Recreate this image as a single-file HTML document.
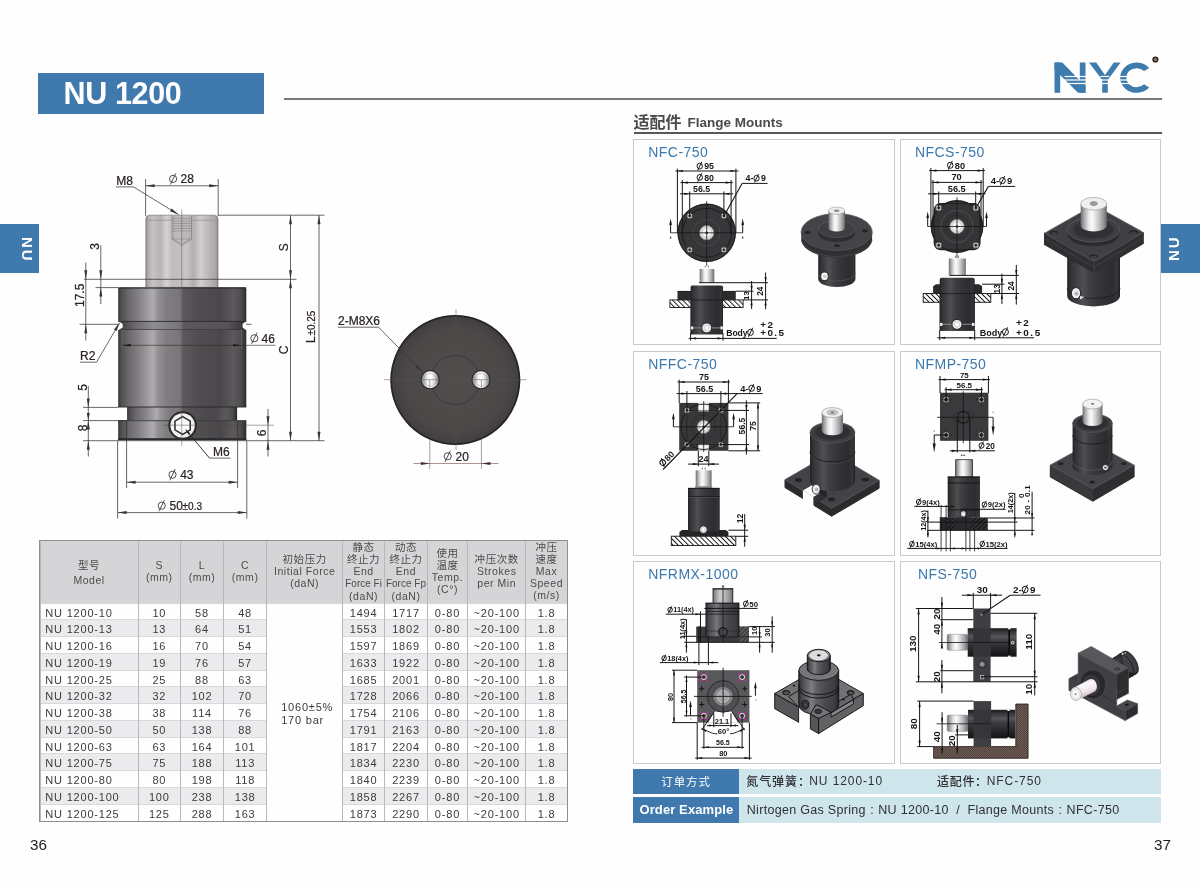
<!DOCTYPE html>
<html lang="zh"><head><meta charset="utf-8"><title>NU 1200</title><style>
*{box-sizing:border-box}
html,body{margin:0;padding:0}
body{will-change:transform;width:1200px;height:884px;position:relative;overflow:hidden;background:#fefefe;font-family:"Liberation Sans","Noto Sans CJK SC",sans-serif;color:#333}
svg{position:absolute;left:0;top:0;overflow:visible}
svg text{font-family:"Liberation Sans","Noto Sans CJK SC",sans-serif}
.abs{position:absolute}
.title{left:37.5px;top:72.5px;width:226.5px;height:41.5px;background:#3f79ad;color:#fff;font-weight:bold;font-size:30.5px;line-height:41.5px;padding-left:26px;letter-spacing:-0.35px;white-space:nowrap}
.hline{left:284px;top:98.2px;width:878px;height:2px;background:#777879}
.tabL{left:0;top:224px;width:39px;height:49px;background:#3f79ad}
.tabR{left:1161px;top:224px;width:39px;height:49px;background:#3f79ad}
.tabtxt{position:absolute;color:#fff;font-weight:bold;font-size:15px;letter-spacing:2px;line-height:1;white-space:nowrap;transform-origin:0 0}
.h2{left:687.5px;top:114.6px;font-weight:bold;font-size:13.5px;color:#4a4a4c;white-space:nowrap;line-height:15px}
.h2line{left:633.5px;top:132.3px;width:528.5px;height:1.6px;background:#58585a}
.box{border:1px solid #c9c9cb;background:#fefefe}
.boxt{position:absolute;left:14px;top:4.2px;font-size:14px;color:#3a78ad;letter-spacing:0.45px;white-space:nowrap;line-height:16px}
.pn{font-size:15.2px;color:#1c1c1c;line-height:16px}
.ob{background:#3f79ad;color:#fff;left:633.3px;width:105.5px}
.ol{background:#cfe5ec;left:738.8px;width:422.7px}
.otxt{font-size:12px;letter-spacing:0.9px;color:#2f2f31;white-space:nowrap;line-height:14px}
table.t{position:absolute;left:39.5px;top:540px;width:528px;border-collapse:collapse;table-layout:fixed;font-size:11px;color:#3b3b3d;letter-spacing:0.8px}
table.t td{padding:3px 0 0 0;height:16.77px;line-height:12.77px;text-align:center;border-left:1px solid #b9b9bb;border-right:1px solid #b9b9bb;border-top:1px solid #d9d9db;white-space:nowrap;overflow:hidden}
table.t tr.h td{padding:0;overflow:visible;height:63px;background:#d5d5d7;border-top:none;font-size:10.5px;line-height:12px;color:#4c4c4e;letter-spacing:0.55px;vertical-align:middle}
table.t tr.g td{background:#ebebed}
table.t tr.w td{background:#fefefe}
table.t td.m{text-align:left;padding-left:4.8px}
table.t td.big{background:#fefefe !important;text-align:left;padding:0 0 0 14px;line-height:13px;vertical-align:middle}
.tframe{left:39px;top:539.5px;width:529px;height:282.5px;border:1.6px solid #8e8e90;pointer-events:none}
.cj{font-family:"Liberation Sans","Noto Sans CJK SC",sans-serif;font-size:10.5px;letter-spacing:0.55px;color:#4c4c4e}
</style></head><body>
<div class="abs title">NU 1200</div>
<div class="abs hline"></div>
<div class="abs tabL"><span class="tabtxt" style="left:35px;top:237px;transform:translate(0,-224px) rotate(90deg)">NU</span></div>
<div class="abs tabR"><span class="tabtxt" style="left:4.6px;top:36.6px;transform:rotate(-90deg)">NU</span></div>
<svg width="1200" height="884" aria-label="NYC logo"><rect x="1054.5" y="62.5" width="5.7" height="30.3" fill="#3f7cae" /><rect x="1079.8" y="62.5" width="5.7" height="30.3" fill="#3f7cae" /><polygon points="1054.5,62.5 1062.3,62.5 1085.5,86.3 1085.5,92.8 1078,92.8 1054.5,69.5" fill="#3f7cae" /><polygon points="1089,62.5 1096.2,62.5 1105,75.1 1113.8,62.5 1120.6,62.5 1107.8,80.1 1107.8,92.8 1102.2,92.8 1102.2,80.1" fill="#3f7cae" /><path fill="#3f7cae" d="M1149.19 67.91 A16.44 15.15 0 1 0 1149.19 87.39 L1144.08 84.18 A10.31 9.5 0 1 1 1144.08 71.12Z"/><rect x="1064.5" y="75.9" width="21.5" height="1.2" fill="#fefefe" /><rect x="1100.3" y="75.9" width="9" height="1.2" fill="#fefefe" /><rect x="1119.5" y="75.9" width="9.6" height="1.2" fill="#fefefe" /><rect x="1064.5" y="79.4" width="21.5" height="1.2" fill="#fefefe" /><rect x="1100.3" y="79.4" width="9" height="1.2" fill="#fefefe" /><rect x="1119.5" y="79.4" width="9.6" height="1.2" fill="#fefefe" /><rect x="1064.5" y="82.9" width="21.5" height="1.2" fill="#fefefe" /><rect x="1100.3" y="82.9" width="9" height="1.2" fill="#fefefe" /><rect x="1119.5" y="82.9" width="9.6" height="1.2" fill="#fefefe" /><circle cx="1155.4" cy="59.5" r="3.1" fill="#33231f" /><circle cx="1155.4" cy="59.5" r="1.5" fill="#a89a95" /><circle cx="1155.2" cy="59.3" r="0.6" fill="#33231f" /></svg>
<svg width="1200" height="884" style="pointer-events:none"><text x="633.5" y="127.9" font-size="16" font-weight="bold" fill="#4a4a4c">适配件</text></svg>
<div class="abs h2">Flange Mounts</div>
<div class="abs h2line"></div>
<div class="abs pn" style="left:30px;top:836.6px">36</div>
<div class="abs pn" style="left:1154px;top:836.6px">37</div>
<table class="t"><colgroup>
<col style="width:98.2px">
<col style="width:42.3px">
<col style="width:43.1px">
<col style="width:43.1px">
<col style="width:76px">
<col style="width:41.8px">
<col style="width:43px">
<col style="width:40px">
<col style="width:58.5px">
<col style="width:41px">
</colgroup>
<tr class="h"><td><div style="line-height:14.5px;position:relative;top:1.5px"><span class="cj">型号</span><br>Model</div></td><td>S<br>(mm)</td><td>L<br>(mm)</td><td>C<br>(mm)</td><td><span class="cj">初始压力</span><br>Initial Force<br>(daN)</td><td><span class="cj">静态</span><br><span class="cj">终止力</span><br>End<br><span style="letter-spacing:0;font-size:10px">Force Fi</span><br>(daN)</td><td><span class="cj">动态</span><br><span class="cj">终止力</span><br>End<br><span style="letter-spacing:0;font-size:10px">Force Fp</span><br>(daN)</td><td><span class="cj">使用</span><br><span class="cj">温度</span><br>Temp.<br>(C°)</td><td><span class="cj">冲压次数</span><br>Strokes<br>per Min</td><td><span class="cj">冲压</span><br><span class="cj">速度</span><br>Max<br>Speed<br>(m/s)</td></tr>
<tr class="w"><td class="m">NU 1200-10</td><td>10</td><td>58</td><td>48</td><td class="big" rowspan="13"><div style="position:relative;top:1.5px">1060±5%<br>170 bar</div></td><td>1494</td><td>1717</td><td>0-80</td><td>~20-100</td><td>1.8</td></tr>
<tr class="g"><td class="m">NU 1200-13</td><td>13</td><td>64</td><td>51</td><td>1553</td><td>1802</td><td>0-80</td><td>~20-100</td><td>1.8</td></tr>
<tr class="w"><td class="m">NU 1200-16</td><td>16</td><td>70</td><td>54</td><td>1597</td><td>1869</td><td>0-80</td><td>~20-100</td><td>1.8</td></tr>
<tr class="g"><td class="m">NU 1200-19</td><td>19</td><td>76</td><td>57</td><td>1633</td><td>1922</td><td>0-80</td><td>~20-100</td><td>1.8</td></tr>
<tr class="w"><td class="m">NU 1200-25</td><td>25</td><td>88</td><td>63</td><td>1685</td><td>2001</td><td>0-80</td><td>~20-100</td><td>1.8</td></tr>
<tr class="g"><td class="m">NU 1200-32</td><td>32</td><td>102</td><td>70</td><td>1728</td><td>2066</td><td>0-80</td><td>~20-100</td><td>1.8</td></tr>
<tr class="w"><td class="m">NU 1200-38</td><td>38</td><td>114</td><td>76</td><td>1754</td><td>2106</td><td>0-80</td><td>~20-100</td><td>1.8</td></tr>
<tr class="g"><td class="m">NU 1200-50</td><td>50</td><td>138</td><td>88</td><td>1791</td><td>2163</td><td>0-80</td><td>~20-100</td><td>1.8</td></tr>
<tr class="w"><td class="m">NU 1200-63</td><td>63</td><td>164</td><td>101</td><td>1817</td><td>2204</td><td>0-80</td><td>~20-100</td><td>1.8</td></tr>
<tr class="g"><td class="m">NU 1200-75</td><td>75</td><td>188</td><td>113</td><td>1834</td><td>2230</td><td>0-80</td><td>~20-100</td><td>1.8</td></tr>
<tr class="w"><td class="m">NU 1200-80</td><td>80</td><td>198</td><td>118</td><td>1840</td><td>2239</td><td>0-80</td><td>~20-100</td><td>1.8</td></tr>
<tr class="g"><td class="m">NU 1200-100</td><td>100</td><td>238</td><td>138</td><td>1858</td><td>2267</td><td>0-80</td><td>~20-100</td><td>1.8</td></tr>
<tr class="w"><td class="m">NU 1200-125</td><td>125</td><td>288</td><td>163</td><td>1873</td><td>2290</td><td>0-80</td><td>~20-100</td><td>1.8</td></tr>
</table>
<div class="abs tframe"></div>
<div class="abs box" style="left:633.3px;top:139.2px;width:261.5px;height:206px"><span class="boxt" style="left:14px">NFC-750</span></div>
<div class="abs box" style="left:900px;top:139.2px;width:261px;height:206px"><span class="boxt" style="left:14px">NFCS-750</span></div>
<div class="abs box" style="left:633.3px;top:351px;width:261.5px;height:204.5px"><span class="boxt" style="left:14px">NFFC-750</span></div>
<div class="abs box" style="left:900px;top:351px;width:261px;height:204.5px"><span class="boxt" style="left:14px">NFMP-750</span></div>
<div class="abs box" style="left:633.3px;top:561.3px;width:261.5px;height:203px"><span class="boxt" style="left:14px">NFRMX-1000</span></div>
<div class="abs box" style="left:900px;top:561.3px;width:261px;height:203px"><span class="boxt" style="left:17px">NFS-750</span></div>
<div class="abs ob" style="top:768.7px;height:25px"></div>
<div class="abs ol" style="top:768.7px;height:25px"></div>
<div class="abs ob" style="top:797px;height:25.5px"></div>
<div class="abs ol" style="top:797px;height:25.5px"></div>
<svg width="1200" height="884" style="pointer-events:none"><text x="661.3" y="786.3" font-size="11.5" letter-spacing="0.9" fill="#fff">订单方式</text><text x="746.3" y="786.2" font-size="12" font-weight="500" letter-spacing="0.9" fill="#2f2f31">氮气弹簧：</text><text x="937" y="786.2" font-size="12" font-weight="500" letter-spacing="0.7" fill="#2f2f31">适配件：</text></svg>
<div class="abs otxt" style="left:809.3px;top:774.3px">NU 1200-10</div>
<div class="abs otxt" style="left:986.8px;top:774.3px">NFC-750</div>
<div class="abs" style="left:639.5px;top:802.2px;font-weight:bold;font-size:13px;color:#fff;white-space:nowrap;line-height:15px;letter-spacing:0.1px">Order Example</div>
<div class="abs otxt" style="left:746.8px;top:802.6px;font-size:12.5px;letter-spacing:0.3px;line-height:15px">Nirtogen Gas Spring<span style="letter-spacing:0;display:inline-block;width:12.5px;text-align:center">:</span>NU 1200-10&nbsp; /&nbsp; Flange Mounts<span style="letter-spacing:0;display:inline-block;width:12.5px;text-align:center">:</span>NFC-750</div>
<svg width="1200" height="884" aria-label="NU 1200 dimension drawing" style="stroke-linecap:butt"><style>.lt text{stroke:#2a2224;stroke-width:0.22px}</style><g class="lt"><defs><linearGradient id="rodG" x1="0" y1="0" x2="1" y2="0"><stop offset="0" stop-color="#938f92"/><stop offset="0.04" stop-color="#b3afb2"/><stop offset="0.1" stop-color="#c6c2c5"/><stop offset="0.2" stop-color="#b6b2b5"/><stop offset="0.29" stop-color="#d6d2d4"/><stop offset="0.36" stop-color="#c0bcbe"/><stop offset="0.5" stop-color="#c4c0c2"/><stop offset="0.56" stop-color="#c9c5c7"/><stop offset="0.66" stop-color="#b2aeb0"/><stop offset="0.76" stop-color="#d2cecf"/><stop offset="0.86" stop-color="#bdb9bb"/><stop offset="0.96" stop-color="#aca8aa"/><stop offset="1" stop-color="#908c8e"/></linearGradient><linearGradient id="bodyG" x1="0" y1="0" x2="1" y2="0"><stop offset="0" stop-color="#323033"/><stop offset="0.02" stop-color="#4d4b4e"/><stop offset="0.08" stop-color="#6a686b"/><stop offset="0.16" stop-color="#838184"/><stop offset="0.22" stop-color="#9a989b"/><stop offset="0.27" stop-color="#aeacaf"/><stop offset="0.31" stop-color="#939194"/><stop offset="0.38" stop-color="#7f7d80"/><stop offset="0.46" stop-color="#7a787b"/><stop offset="0.497" stop-color="#757376"/><stop offset="0.503" stop-color="#5d5a5d"/><stop offset="0.6" stop-color="#524f52"/><stop offset="0.8" stop-color="#4a474a"/><stop offset="0.9" stop-color="#5c595c"/><stop offset="0.96" stop-color="#4e4b4e"/><stop offset="1" stop-color="#2b292c"/></linearGradient><linearGradient id="grvG" x1="0" y1="0" x2="1" y2="0"><stop offset="0" stop-color="#363437"/><stop offset="0.1" stop-color="#605e62"/><stop offset="0.27" stop-color="#8f8d90"/><stop offset="0.5" stop-color="#757376"/><stop offset="0.51" stop-color="#5a585b"/><stop offset="0.85" stop-color="#56545a"/><stop offset="1" stop-color="#343235"/></linearGradient><radialGradient id="discG" cx="0.5" cy="0.5" r="0.5"><stop offset="0" stop-color="#524e4e"/><stop offset="0.8" stop-color="#4b4747"/><stop offset="0.94" stop-color="#454142"/><stop offset="0.975" stop-color="#2d2a2b"/><stop offset="1" stop-color="#1d1b1c"/></radialGradient><linearGradient id="holeG" x1="0" y1="0" x2="1" y2="0"><stop offset="0" stop-color="#8a8a8c"/><stop offset="0.35" stop-color="#f4f4f4"/><stop offset="0.55" stop-color="#ffffff"/><stop offset="0.8" stop-color="#c9c9cb"/><stop offset="1" stop-color="#77777a"/></linearGradient></defs><path d="M145.8 287.4V219.2Q145.8 215.2 149.8 215.2H214Q218 215.2 218 219.2V287.4Z" fill="url(#rodG)" stroke="#6d696c" stroke-width="0.6" /><line x1="146" y1="220.2" x2="218" y2="220.2" stroke="#8d898c" stroke-width="0.6" /><path d="M172.1 215.4V239L181.75 245.4L191.4 239V215.4" fill="#c9c5c7" stroke="#6a6669" stroke-width="0.6" /><path d="M173.6 215.4V239.5L181.75 244L189.9 239.5V215.4Z" fill="#bdb9bb" stroke="#8a8689" stroke-width="0.4" /><line x1="172.1" y1="218.5" x2="191.4" y2="218.5" stroke="#7d797c" stroke-width="0.5" /><line x1="172.1" y1="221" x2="191.4" y2="221" stroke="#7d797c" stroke-width="0.5" /><line x1="172.1" y1="223.5" x2="191.4" y2="223.5" stroke="#7d797c" stroke-width="0.5" /><line x1="172.1" y1="226" x2="191.4" y2="226" stroke="#7d797c" stroke-width="0.5" /><line x1="172.1" y1="228.5" x2="191.4" y2="228.5" stroke="#7d797c" stroke-width="0.5" /><line x1="172.1" y1="231" x2="191.4" y2="231" stroke="#7d797c" stroke-width="0.5" /><line x1="172.1" y1="239" x2="191.4" y2="239" stroke="#7d797c" stroke-width="0.5" /><path d="M118.2 322V289.2Q118.2 287.2 120.2 287.2H244.3Q246.3 287.2 246.3 289.2V322Z" fill="url(#bodyG)" /><rect x="118.2" y="287.2" width="128.1" height="1.6" fill="#2f2d30" opacity="0.75"/><path d="M118.2 321L122.7 324V327.5L118.2 330.2H246.3L242.6 327.5V324L246.3 321Z" fill="url(#grvG)" /><line x1="122" y1="321.4" x2="243" y2="321.4" stroke="#2c2a2d" stroke-width="0.9" /><line x1="122" y1="329.8" x2="243" y2="329.8" stroke="#343235" stroke-width="0.9" /><rect x="118.2" y="330" width="128.1" height="77" fill="url(#bodyG)" /><rect x="127.1" y="406.9" width="110" height="13.8" fill="url(#bodyG)" /><line x1="118.2" y1="407" x2="246.3" y2="407" stroke="#262427" stroke-width="0.9" /><rect x="118.2" y="420.5" width="128.1" height="19.6" fill="url(#bodyG)" /><line x1="118.2" y1="420.7" x2="246.3" y2="420.7" stroke="#2b292c" stroke-width="0.8" /><rect x="118.2" y="438.2" width="128.1" height="2" fill="#2a282b" /><circle cx="182.6" cy="425.5" r="14.3" fill="#2b292c" /><circle cx="182.6" cy="425.5" r="12.2" fill="#f2f0f1" /><polygon points="190.22,429.9 182.6,434.3 174.98,429.9 174.98,421.1 182.6,416.7 190.22,421.1" fill="#fbfbfb" stroke="#2b292c" stroke-width="1.5" /><line x1="181.75" y1="209.5" x2="181.75" y2="446" stroke="#5a5558" stroke-width="0.5" /><line x1="145.6" y1="179" x2="145.6" y2="216" stroke="#3b3234" stroke-width="0.75" /><line x1="218.2" y1="179" x2="218.2" y2="216" stroke="#3b3234" stroke-width="0.75" /><line x1="145.6" y1="185.8" x2="218.2" y2="185.8" stroke="#3b3234" stroke-width="0.75" /><polygon points="145.6,185.8 154.6,184.3 154.6,187.3" fill="#3b3234" /><polygon points="218.2,185.8 209.2,184.3 209.2,187.3" fill="#3b3234" /><circle cx="173.1" cy="178.88" r="3.6" fill="none" stroke="#2a2224" stroke-width="0.8" /><line x1="170.4" y1="184.46" x2="175.8" y2="173.3" stroke="#2a2224" stroke-width="0.8" /><text x="180.6" y="183.2" font-size="12" text-anchor="start" fill="#2a2224" >28</text><text x="116.2" y="185.2" font-size="12" text-anchor="start" fill="#2a2224" >M8</text><line x1="116" y1="186.9" x2="133.5" y2="186.9" stroke="#3b3234" stroke-width="0.75" /><line x1="133.5" y1="186.9" x2="178.5" y2="214.6" stroke="#3b3234" stroke-width="0.75" /><polygon points="178.5,214.6 170.05,211.16 171.62,208.61" fill="#3b3234" /><line x1="218.2" y1="215.2" x2="324.5" y2="215.2" stroke="#3b3234" stroke-width="0.75" /><line x1="84" y1="279.3" x2="296.5" y2="279.3" stroke="#3b3234" stroke-width="0.75" /><line x1="95.5" y1="287.6" x2="118.2" y2="287.6" stroke="#3b3234" stroke-width="0.75" /><line x1="79.5" y1="324.3" x2="118.5" y2="324.3" stroke="#3b3234" stroke-width="0.75" /><line x1="246" y1="324.3" x2="251.5" y2="324.3" stroke="#3b3234" stroke-width="0.75" /><line x1="83" y1="440.7" x2="324.5" y2="440.7" stroke="#3b3234" stroke-width="0.75" /><line x1="290.5" y1="215.2" x2="290.5" y2="440.7" stroke="#3b3234" stroke-width="0.75" /><polygon points="290.5,215.2 289,224.2 292,224.2" fill="#3b3234" /><polygon points="290.5,279.3 289,270.3 292,270.3" fill="#3b3234" /><polygon points="290.5,279.3 289,288.3 292,288.3" fill="#3b3234" /><polygon points="290.5,440.7 289,431.7 292,431.7" fill="#3b3234" /><text x="288.3" y="247.3" font-size="12" text-anchor="middle" fill="#2a2224" transform="rotate(-90 288.3 247.3)" >S</text><text x="288.3" y="350" font-size="12" text-anchor="middle" fill="#2a2224" transform="rotate(-90 288.3 350)" >C</text><line x1="319" y1="215.2" x2="319" y2="440.7" stroke="#3b3234" stroke-width="0.75" /><polygon points="319,215.2 317.5,224.2 320.5,224.2" fill="#3b3234" /><polygon points="319,440.7 317.5,431.7 320.5,431.7" fill="#3b3234" /><text x="314.8" y="343" font-size="12" text-anchor="start" fill="#2a2224" transform="rotate(-90 314.8 343)" >L</text><text x="314.8" y="335.6" font-size="10" text-anchor="start" fill="#2a2224" transform="rotate(-90 314.8 335.6)" >±0.25</text><line x1="100.8" y1="245" x2="100.8" y2="304" stroke="#3b3234" stroke-width="0.75" /><polygon points="100.8,279.3 99.3,270.3 102.3,270.3" fill="#3b3234" /><polygon points="100.8,287.6 99.3,296.6 102.3,296.6" fill="#3b3234" /><text x="99" y="246.3" font-size="12" text-anchor="middle" fill="#2a2224" transform="rotate(-90 99 246.3)" >3</text><line x1="85.8" y1="262.5" x2="85.8" y2="340.5" stroke="#3b3234" stroke-width="0.75" /><polygon points="85.8,279.3 84.3,270.3 87.3,270.3" fill="#3b3234" /><polygon points="85.8,324.3 84.3,333.3 87.3,333.3" fill="#3b3234" /><text x="84" y="295.3" font-size="12" text-anchor="middle" fill="#2a2224" transform="rotate(-90 84 295.3)" >17.5</text><text x="80" y="360.3" font-size="12" text-anchor="start" fill="#2a2224" >R2</text><line x1="80" y1="362.2" x2="96.5" y2="362.2" stroke="#3b3234" stroke-width="0.75" /><line x1="96.5" y1="362.2" x2="119.5" y2="323" stroke="#3b3234" stroke-width="0.75" /><polygon points="119.8,322.5 116.54,331.02 113.95,329.5" fill="#3b3234" /><line x1="122.3" y1="329" x2="122.3" y2="349" stroke="#77757a" stroke-width="0.5" /><line x1="241.6" y1="329" x2="241.6" y2="349" stroke="#77757a" stroke-width="0.5" /><line x1="122.3" y1="345.3" x2="275.5" y2="345.3" stroke="#2a2628" stroke-width="0.6" /><polygon points="122.3,345.3 130.8,344.1 130.8,346.5" fill="#1f1c1e" /><polygon points="241.6,345.3 233.1,344.1 233.1,346.5" fill="#1f1c1e" /><circle cx="254.3" cy="338.28" r="3.6" fill="none" stroke="#2a2224" stroke-width="0.8" /><line x1="251.6" y1="343.86" x2="257" y2="332.7" stroke="#2a2224" stroke-width="0.8" /><text x="261.6" y="342.6" font-size="12" text-anchor="start" fill="#2a2224" >46</text><line x1="83" y1="407.4" x2="118.2" y2="407.4" stroke="#3b3234" stroke-width="0.75" /><line x1="83" y1="420.6" x2="127" y2="420.6" stroke="#3b3234" stroke-width="0.75" /><line x1="88.3" y1="386" x2="88.3" y2="456.5" stroke="#3b3234" stroke-width="0.75" /><polygon points="88.3,407.4 86.8,398.4 89.8,398.4" fill="#3b3234" /><polygon points="88.3,420.6 86.8,429.6 89.8,429.6" fill="#3b3234" /><polygon points="88.3,420.6 86.8,413.1 89.8,413.1" fill="#3b3234" /><polygon points="88.3,440.7 86.8,449.7 89.8,449.7" fill="#3b3234" /><text x="86.5" y="387.5" font-size="12" text-anchor="middle" fill="#2a2224" transform="rotate(-90 86.5 387.5)" >5</text><text x="86.5" y="428" font-size="12" text-anchor="middle" fill="#2a2224" transform="rotate(-90 86.5 428)" >8</text><line x1="163.5" y1="425.2" x2="274" y2="425.2" stroke="#4c4649" stroke-width="0.5" /><line x1="268" y1="409" x2="268" y2="456.5" stroke="#3b3234" stroke-width="0.75" /><polygon points="268,425.2 266.5,416.2 269.5,416.2" fill="#3b3234" /><polygon points="268,440.7 266.5,449.7 269.5,449.7" fill="#3b3234" /><text x="266.3" y="432.8" font-size="12" text-anchor="middle" fill="#2a2224" transform="rotate(-90 266.3 432.8)" >6</text><text x="213" y="455.9" font-size="12" text-anchor="start" fill="#2a2224" >M6</text><line x1="209.5" y1="458.1" x2="230.5" y2="458.1" stroke="#3b3234" stroke-width="0.75" /><line x1="209.5" y1="458.1" x2="186" y2="430" stroke="#1f1c1e" stroke-width="0.9" /><polygon points="185,428.8 190.34,433.46 188.66,434.87" fill="#1f1c1e" /><line x1="126.6" y1="421" x2="126.6" y2="488" stroke="#3b3234" stroke-width="0.75" /><line x1="237.6" y1="421" x2="237.6" y2="488" stroke="#3b3234" stroke-width="0.75" /><line x1="126.6" y1="482.2" x2="237.6" y2="482.2" stroke="#3b3234" stroke-width="0.75" /><polygon points="126.6,482.2 135.6,480.7 135.6,483.7" fill="#3b3234" /><polygon points="237.6,482.2 228.6,480.7 228.6,483.7" fill="#3b3234" /><circle cx="172.5" cy="474.68" r="3.6" fill="none" stroke="#2a2224" stroke-width="0.8" /><line x1="169.8" y1="480.26" x2="175.2" y2="469.1" stroke="#2a2224" stroke-width="0.8" /><text x="180.2" y="479" font-size="12" text-anchor="start" fill="#2a2224" >43</text><line x1="117.6" y1="441" x2="117.6" y2="518.5" stroke="#3b3234" stroke-width="0.75" /><line x1="246.8" y1="441" x2="246.8" y2="518.5" stroke="#3b3234" stroke-width="0.75" /><line x1="117.6" y1="512.6" x2="246.8" y2="512.6" stroke="#3b3234" stroke-width="0.75" /><polygon points="117.6,512.6 126.6,511.1 126.6,514.1" fill="#3b3234" /><polygon points="246.8,512.6 237.8,511.1 237.8,514.1" fill="#3b3234" /><circle cx="161.7" cy="505.68" r="3.6" fill="none" stroke="#2a2224" stroke-width="0.8" /><line x1="159" y1="511.26" x2="164.4" y2="500.1" stroke="#2a2224" stroke-width="0.8" /><text x="169.6" y="510" font-size="12" text-anchor="start" fill="#2a2224" >50</text><text x="182.6" y="510" font-size="10" text-anchor="start" fill="#2a2224" >±0.3</text><circle cx="455.3" cy="380" r="65" fill="url(#discG)" /><circle cx="455.3" cy="380" r="62.6" fill="none" stroke="#5f5b5c" stroke-width="0.5" /><circle cx="455.3" cy="380" r="24.6" fill="none" stroke="#2e2c2e" stroke-width="0.6" /><circle cx="430.2" cy="379.7" r="9.6" fill="#2a282a" /><circle cx="430.2" cy="379.7" r="8.5" fill="url(#holeG)" /><circle cx="430.2" cy="379.7" r="6.4" fill="none" stroke="#9a9a9c" stroke-width="0.5" /><circle cx="481" cy="379.7" r="9.6" fill="#2a282a" /><circle cx="481" cy="379.7" r="8.5" fill="url(#holeG)" /><circle cx="481" cy="379.7" r="6.4" fill="none" stroke="#9a9a9c" stroke-width="0.5" /><line x1="384" y1="379.7" x2="526.5" y2="379.7" stroke="#5b5557" stroke-width="0.5" /><line x1="456" y1="309" x2="456" y2="450" stroke="#5b5557" stroke-width="0.5" /><text x="338" y="325.2" font-size="12" text-anchor="start" fill="#2a2224" >2-M8X6</text><line x1="338" y1="327.2" x2="378.5" y2="327.2" stroke="#3b3234" stroke-width="0.75" /><line x1="378.5" y1="327.2" x2="422.5" y2="372" stroke="#3b3234" stroke-width="0.75" /><polygon points="423,372.5 415.62,367.13 417.76,365.03" fill="#3b3234" /><line x1="429.8" y1="380" x2="429.8" y2="469" stroke="#4c4649" stroke-width="0.5" /><line x1="481.4" y1="380" x2="481.4" y2="469" stroke="#4c4649" stroke-width="0.5" /><line x1="413.5" y1="463.5" x2="498.5" y2="463.5" stroke="#7a4a42" stroke-width="0.6" /><polygon points="429.8,463.5 420.8,462 420.8,465" fill="#3b3234" /><polygon points="481.4,463.5 490.4,462 490.4,465" fill="#3b3234" /><circle cx="447.7" cy="456.28" r="3.6" fill="none" stroke="#2a2224" stroke-width="0.8" /><line x1="445" y1="461.86" x2="450.4" y2="450.7" stroke="#2a2224" stroke-width="0.8" /><text x="455.6" y="460.6" font-size="12" text-anchor="start" fill="#2a2224" >20</text></g></svg>
<svg width="1200" height="884" aria-label="NFC-750 drawing"><defs><linearGradient id="adk" x1="0" y1="0" x2="1" y2="0"><stop offset="0" stop-color="#222224"/><stop offset="0.06" stop-color="#313134"/><stop offset="0.22" stop-color="#454548"/><stop offset="0.3" stop-color="#4f4f53"/><stop offset="0.42" stop-color="#404044"/><stop offset="0.6" stop-color="#353539"/><stop offset="0.85" stop-color="#2d2d30"/><stop offset="0.95" stop-color="#36363a"/><stop offset="1" stop-color="#1e1e20"/></linearGradient><linearGradient id="ard" x1="0" y1="0" x2="1" y2="0"><stop offset="0" stop-color="#6d6d70"/><stop offset="0.12" stop-color="#a4a4a7"/><stop offset="0.32" stop-color="#ececed"/><stop offset="0.45" stop-color="#fafafa"/><stop offset="0.65" stop-color="#cfcfd1"/><stop offset="0.85" stop-color="#9d9da0"/><stop offset="1" stop-color="#69696c"/></linearGradient><linearGradient id="amd" x1="0" y1="0" x2="1" y2="0"><stop offset="0" stop-color="#2e2e31"/><stop offset="0.08" stop-color="#4a4a4e"/><stop offset="0.25" stop-color="#6c6c71"/><stop offset="0.32" stop-color="#7d7d82"/><stop offset="0.45" stop-color="#5e5e63"/><stop offset="0.65" stop-color="#4a4a4f"/><stop offset="0.9" stop-color="#3d3d41"/><stop offset="1" stop-color="#252528"/></linearGradient><pattern id="ahat" width="3.6" height="3.6" patternUnits="userSpaceOnUse" patternTransform="rotate(-45)"><rect width="3.6" height="3.6" fill="#fefefe"/><line x1="0" y1="0" x2="0" y2="3.6" stroke="#131313" stroke-width="1.9"/></pattern></defs><circle cx="706.7" cy="232.8" r="29.3" fill="#37373a" /><circle cx="706.7" cy="232.8" r="28.6" fill="none" stroke="#1b1b1d" stroke-width="0.8" /><circle cx="706.7" cy="232.8" r="24.5" fill="none" stroke="#19191b" stroke-width="0.9" /><circle cx="706.7" cy="232.8" r="13.4" fill="none" stroke="#4e4e52" stroke-width="0.8" /><circle cx="706.7" cy="232.8" r="7.2" fill="#d9d7d8" stroke="#8a8a8c" stroke-width="0.6" /><circle cx="706.7" cy="232.8" r="4" fill="#f7f7f7" /><circle cx="706.7" cy="232.8" r="1.6" fill="#777" /><circle cx="689.7" cy="215.9" r="3" fill="#d8d4d2" stroke="#151515" stroke-width="0.6" /><circle cx="689.7" cy="215.9" r="1.35" fill="#3a3a3a" /><line x1="686.7" y1="215.9" x2="692.7" y2="215.9" stroke="#222" stroke-width="0.4" /><line x1="689.7" y1="212.9" x2="689.7" y2="218.9" stroke="#222" stroke-width="0.4" /><circle cx="689.7" cy="249.8" r="3" fill="#d8d4d2" stroke="#151515" stroke-width="0.6" /><circle cx="689.7" cy="249.8" r="1.35" fill="#3a3a3a" /><line x1="686.7" y1="249.8" x2="692.7" y2="249.8" stroke="#222" stroke-width="0.4" /><line x1="689.7" y1="246.8" x2="689.7" y2="252.8" stroke="#222" stroke-width="0.4" /><circle cx="723.9" cy="215.9" r="3" fill="#d8d4d2" stroke="#151515" stroke-width="0.6" /><circle cx="723.9" cy="215.9" r="1.35" fill="#3a3a3a" /><line x1="720.9" y1="215.9" x2="726.9" y2="215.9" stroke="#222" stroke-width="0.4" /><line x1="723.9" y1="212.9" x2="723.9" y2="218.9" stroke="#222" stroke-width="0.4" /><circle cx="723.9" cy="249.8" r="3" fill="#d8d4d2" stroke="#151515" stroke-width="0.6" /><circle cx="723.9" cy="249.8" r="1.35" fill="#3a3a3a" /><line x1="720.9" y1="249.8" x2="726.9" y2="249.8" stroke="#222" stroke-width="0.4" /><line x1="723.9" y1="246.8" x2="723.9" y2="252.8" stroke="#222" stroke-width="0.4" /><line x1="706.7" y1="201" x2="706.7" y2="265.7" stroke="#181416" stroke-width="0.8" /><line x1="670.6" y1="232.8" x2="742.7" y2="232.8" stroke="#181416" stroke-width="0.8" /><line x1="670.6" y1="232.8" x2="670.6" y2="222" stroke="#181416" stroke-width="1" /><polygon points="670.6,218.6 669.3,225.1 671.9,225.1" fill="#181416" /><line x1="669.8" y1="237.8" x2="671.4" y2="237.8" stroke="#181416" stroke-width="0.7" /><line x1="670.6" y1="236.3" x2="670.6" y2="238.6" stroke="#181416" stroke-width="0.6" /><line x1="742.7" y1="232.8" x2="742.7" y2="222" stroke="#181416" stroke-width="1" /><polygon points="742.7,218.6 741.4,225.1 744,225.1" fill="#181416" /><line x1="741.9" y1="237.8" x2="743.5" y2="237.8" stroke="#181416" stroke-width="0.7" /><line x1="742.7" y1="236.3" x2="742.7" y2="238.6" stroke="#181416" stroke-width="0.6" /><line x1="677.4" y1="168.7" x2="677.4" y2="233" stroke="#181416" stroke-width="1.0" /><line x1="735.9" y1="168.7" x2="735.9" y2="233" stroke="#181416" stroke-width="1.0" /><line x1="675.5" y1="171" x2="738.4" y2="171" stroke="#181416" stroke-width="1.0" /><polygon points="677.4,171 682.9,169.9 682.9,172.1" fill="#181416" /><polygon points="735.9,171 730.4,169.9 730.4,172.1" fill="#181416" /><ellipse cx="699.76" cy="166.13" rx="2.67" ry="2.9" fill="none" stroke="#181416" stroke-width="1.0" /><line x1="697.72" y1="170.34" x2="701.79" y2="161.92" stroke="#181416" stroke-width="1.0" /><text x="704.16" y="169.3" font-size="8.8" text-anchor="start" fill="#181416" font-weight="bold" >95</text><line x1="682.3" y1="180" x2="682.3" y2="233" stroke="#181416" stroke-width="1.0" /><line x1="731.1" y1="180" x2="731.1" y2="233" stroke="#181416" stroke-width="1.0" /><line x1="680.5" y1="182.6" x2="732.8" y2="182.6" stroke="#181416" stroke-width="1.0" /><polygon points="682.3,182.6 687.8,181.5 687.8,183.7" fill="#181416" /><polygon points="731.1,182.6 725.6,181.5 725.6,183.7" fill="#181416" /><ellipse cx="699.76" cy="177.43" rx="2.67" ry="2.9" fill="none" stroke="#181416" stroke-width="1.0" /><line x1="697.72" y1="181.64" x2="701.79" y2="173.22" stroke="#181416" stroke-width="1.0" /><text x="704.16" y="180.6" font-size="8.8" text-anchor="start" fill="#181416" font-weight="bold" >80</text><line x1="689.7" y1="191.5" x2="689.7" y2="216" stroke="#181416" stroke-width="1.0" /><line x1="723.9" y1="191.5" x2="723.9" y2="216" stroke="#181416" stroke-width="1.0" /><line x1="680" y1="193.8" x2="733.4" y2="193.8" stroke="#181416" stroke-width="1.0" /><polygon points="689.7,193.8 684.2,192.7 684.2,194.9" fill="#181416" /><polygon points="723.9,193.8 729.4,192.7 729.4,194.9" fill="#181416" /><text x="701.6" y="192.2" font-size="8.8" text-anchor="middle" fill="#181416" font-weight="bold" >56.5</text><text x="745.6" y="181.4" font-size="8.8" text-anchor="start" fill="#181416" font-weight="bold" >4-</text><ellipse cx="756.53" cy="178.23" rx="2.67" ry="2.9" fill="none" stroke="#181416" stroke-width="1.0" /><line x1="754.49" y1="182.44" x2="758.56" y2="174.02" stroke="#181416" stroke-width="1.0" /><text x="760.93" y="181.4" font-size="8.8" text-anchor="start" fill="#181416" font-weight="bold" >9</text><line x1="742.1" y1="183.4" x2="767.6" y2="183.4" stroke="#181416" stroke-width="1.0" /><line x1="742.1" y1="183.4" x2="724.2" y2="215.6" stroke="#181416" stroke-width="1.1" /><rect x="699.7" y="269" width="14.6" height="13.7" fill="url(#ard)" /><line x1="705.2" y1="265.6" x2="705.2" y2="267.3" stroke="#181416" stroke-width="0.6" /><line x1="708.4" y1="265.6" x2="708.4" y2="267.3" stroke="#181416" stroke-width="0.6" /><line x1="699" y1="282.7" x2="768" y2="282.7" stroke="#181416" stroke-width="1.0" /><rect x="669.9" y="299.9" width="73.2" height="7.6" fill="url(#ahat)" stroke="#181416" stroke-width="0.9"/><rect x="677.5" y="291.2" width="58.3" height="8.9" fill="#2c2c2f" /><line x1="677.5" y1="291.4" x2="735.8" y2="291.4" stroke="#111" stroke-width="0.8" /><rect x="690.6" y="285.6" width="32.4" height="48.7" fill="url(#adk)" rx="1.6"/><rect x="690.6" y="300" width="32.4" height="34.3" fill="url(#adk)" /><line x1="690.6" y1="299.9" x2="723" y2="299.9" stroke="#0c0c0c" stroke-width="0.6" /><rect x="690.6" y="327.2" width="32.4" height="1.3" fill="#77777b" /><rect x="690.9" y="326.4" width="2.3" height="3" fill="#ececec" /><rect x="720.5" y="326.4" width="2.3" height="3" fill="#ececec" /><circle cx="706.7" cy="327.9" r="5" fill="#e9e9ea" stroke="#1a1a1c" stroke-width="0.9" /><circle cx="706.7" cy="327.9" r="2.5" fill="#fff" stroke="#9a9a9c" stroke-width="0.4" /><line x1="735.8" y1="291.2" x2="753.4" y2="291.2" stroke="#181416" stroke-width="1.0" /><line x1="743.1" y1="299.9" x2="768" y2="299.9" stroke="#181416" stroke-width="1.0" /><line x1="751.6" y1="281" x2="751.6" y2="309" stroke="#181416" stroke-width="1.0" /><polygon points="751.6,291.2 750.5,285.7 752.7,285.7" fill="#181416" /><polygon points="751.6,299.9 750.5,305.4 752.7,305.4" fill="#181416" /><line x1="765.6" y1="272.5" x2="765.6" y2="309.3" stroke="#181416" stroke-width="1.0" /><polygon points="765.6,282.7 764.5,277.2 766.7,277.2" fill="#181416" /><polygon points="765.6,299.9 764.5,305.4 766.7,305.4" fill="#181416" /><text x="749.4" y="295.6" font-size="7.8" text-anchor="middle" fill="#181416" font-weight="bold" transform="rotate(-90 749.4 295.6)" >13</text><text x="763.5" y="291.2" font-size="8.4" text-anchor="middle" fill="#181416" font-weight="bold" transform="rotate(-90 763.5 291.2)" >24</text><line x1="690.6" y1="333" x2="690.6" y2="340.6" stroke="#181416" stroke-width="1.0" /><line x1="723" y1="333" x2="723" y2="340.6" stroke="#181416" stroke-width="1.0" /><line x1="688.6" y1="338.4" x2="776.7" y2="338.4" stroke="#181416" stroke-width="1.0" /><polygon points="690.6,338.4 696.1,337.3 696.1,339.5" fill="#181416" /><polygon points="723,338.4 717.5,337.3 717.5,339.5" fill="#181416" /><text x="726.3" y="335.7" font-size="8.6" text-anchor="start" fill="#181416" font-weight="bold" letter-spacing="-0.1" >Body</text><ellipse cx="750.5" cy="332.32" rx="2.85" ry="3.1" fill="none" stroke="#181416" stroke-width="1.0" /><line x1="748.33" y1="336.81" x2="752.67" y2="327.82" stroke="#181416" stroke-width="1.0" /><text x="760.3" y="327.9" font-size="9.9" text-anchor="start" fill="#181416" font-weight="bold" letter-spacing="1.5" >+2</text><text x="760.3" y="335.8" font-size="9.9" text-anchor="start" fill="#181416" font-weight="bold" letter-spacing="1.4" >+0.5</text><path d="M818.2 255V279A18.6 8 0 0 0 855.4 279V255Z" fill="url(#adk)" /><path d="M818.2 273A18.6 8 0 0 0 855.4 273" fill="none" stroke="#535357" stroke-width="0.7" /><path d="M801.3 232V241A35.6 18.4 0 0 0 872.1 241V232Z" fill="#313134" /><path d="M801.3 240A35.6 18.4 0 0 0 872.1 240" fill="none" stroke="#505054" stroke-width="0.6" /><ellipse cx="836.7" cy="232" rx="35.6" ry="18.4" fill="#444448" stroke="#5b5b5f" stroke-width="0.7" /><ellipse cx="807.5" cy="232.5" rx="3.3" ry="1.9" fill="#222224" stroke="#55555a" stroke-width="0.5" /><ellipse cx="865" cy="231" rx="3.3" ry="1.9" fill="#222224" stroke="#55555a" stroke-width="0.5" /><ellipse cx="837" cy="245.6" rx="3.3" ry="1.9" fill="#222224" stroke="#55555a" stroke-width="0.5" /><path d="M818.3 229V233.5A18.4 8.6 0 0 0 855.1 233.5V229Z" fill="#2e2e31" /><ellipse cx="836.7" cy="229" rx="18.4" ry="8.6" fill="#3f3f43" stroke="#5e5e63" stroke-width="0.6" /><path d="M828.5 210.5V228A8.2 3.6 0 0 0 844.9 228V210.5Z" fill="url(#ard)" /><ellipse cx="836.7" cy="210.7" rx="8.2" ry="3.6" fill="#eeeeef" stroke="#9a9a9d" stroke-width="0.6" /><ellipse cx="836.7" cy="210.7" rx="2.8" ry="1.3" fill="#8d8d90" /><ellipse cx="824.5" cy="276.3" rx="3.8" ry="4.3" fill="#f2f2f2" stroke="#111" stroke-width="0.8" /><circle cx="824.8" cy="276.3" r="1.6" fill="#cfcfd1" /></svg>
<svg width="1200" height="884" aria-label="NFCS-750 drawing"><defs><linearGradient id="bdk" x1="0" y1="0" x2="1" y2="0"><stop offset="0" stop-color="#222224"/><stop offset="0.06" stop-color="#313134"/><stop offset="0.22" stop-color="#454548"/><stop offset="0.3" stop-color="#4f4f53"/><stop offset="0.42" stop-color="#404044"/><stop offset="0.6" stop-color="#353539"/><stop offset="0.85" stop-color="#2d2d30"/><stop offset="0.95" stop-color="#36363a"/><stop offset="1" stop-color="#1e1e20"/></linearGradient><linearGradient id="brd" x1="0" y1="0" x2="1" y2="0"><stop offset="0" stop-color="#6d6d70"/><stop offset="0.12" stop-color="#a4a4a7"/><stop offset="0.32" stop-color="#ececed"/><stop offset="0.45" stop-color="#fafafa"/><stop offset="0.65" stop-color="#cfcfd1"/><stop offset="0.85" stop-color="#9d9da0"/><stop offset="1" stop-color="#69696c"/></linearGradient><linearGradient id="bmd" x1="0" y1="0" x2="1" y2="0"><stop offset="0" stop-color="#2e2e31"/><stop offset="0.08" stop-color="#4a4a4e"/><stop offset="0.25" stop-color="#6c6c71"/><stop offset="0.32" stop-color="#7d7d82"/><stop offset="0.45" stop-color="#5e5e63"/><stop offset="0.65" stop-color="#4a4a4f"/><stop offset="0.9" stop-color="#3d3d41"/><stop offset="1" stop-color="#252528"/></linearGradient><pattern id="bhat" width="3.6" height="3.6" patternUnits="userSpaceOnUse" patternTransform="rotate(-45)"><rect width="3.6" height="3.6" fill="#fefefe"/><line x1="0" y1="0" x2="0" y2="3.6" stroke="#131313" stroke-width="1.9"/></pattern></defs><rect x="933.7" y="202.9" width="46.8" height="47.3" fill="#353538" rx="7"/><circle cx="957" cy="226.5" r="26.4" fill="#353538" /><circle cx="957" cy="226.5" r="25.6" fill="none" stroke="#19191b" stroke-width="0.8" /><rect x="934.4" y="203.6" width="45.4" height="45.9" fill="none" rx="6.5" stroke="#19191b" stroke-width="0.7"/><circle cx="957" cy="226.5" r="16.2" fill="none" stroke="#515155" stroke-width="0.9" /><circle cx="957" cy="226.5" r="11.5" fill="none" stroke="#2a2a2d" stroke-width="0.7" /><circle cx="957" cy="226.5" r="7.2" fill="#dad8d9" stroke="#8a8a8c" stroke-width="0.6" /><circle cx="957" cy="226.5" r="4" fill="#f7f7f7" /><circle cx="957" cy="226.5" r="1.6" fill="#777" /><circle cx="938.7" cy="208" r="3.2" fill="#d8d4d2" stroke="#151515" stroke-width="0.6" /><circle cx="938.7" cy="208" r="1.44" fill="#3a3a3a" /><line x1="935.5" y1="208" x2="941.9" y2="208" stroke="#222" stroke-width="0.4" /><line x1="938.7" y1="204.8" x2="938.7" y2="211.2" stroke="#222" stroke-width="0.4" /><circle cx="938.7" cy="245.2" r="3.2" fill="#d8d4d2" stroke="#151515" stroke-width="0.6" /><circle cx="938.7" cy="245.2" r="1.44" fill="#3a3a3a" /><line x1="935.5" y1="245.2" x2="941.9" y2="245.2" stroke="#222" stroke-width="0.4" /><line x1="938.7" y1="242" x2="938.7" y2="248.4" stroke="#222" stroke-width="0.4" /><circle cx="975.9" cy="208" r="3.2" fill="#d8d4d2" stroke="#151515" stroke-width="0.6" /><circle cx="975.9" cy="208" r="1.44" fill="#3a3a3a" /><line x1="972.7" y1="208" x2="979.1" y2="208" stroke="#222" stroke-width="0.4" /><line x1="975.9" y1="204.8" x2="975.9" y2="211.2" stroke="#222" stroke-width="0.4" /><circle cx="975.9" cy="245.2" r="3.2" fill="#d8d4d2" stroke="#151515" stroke-width="0.6" /><circle cx="975.9" cy="245.2" r="1.44" fill="#3a3a3a" /><line x1="972.7" y1="245.2" x2="979.1" y2="245.2" stroke="#222" stroke-width="0.4" /><line x1="975.9" y1="242" x2="975.9" y2="248.4" stroke="#222" stroke-width="0.4" /><line x1="957" y1="197.3" x2="957" y2="258.3" stroke="#181416" stroke-width="0.8" /><line x1="927.7" y1="226.5" x2="986.5" y2="226.5" stroke="#181416" stroke-width="0.8" /><line x1="927.7" y1="226.5" x2="927.7" y2="215" stroke="#181416" stroke-width="1" /><polygon points="927.7,211.4 926.4,217.9 929,217.9" fill="#181416" /><line x1="986.5" y1="226.5" x2="986.5" y2="215" stroke="#181416" stroke-width="1" /><polygon points="986.5,211.4 985.2,217.9 987.8,217.9" fill="#181416" /><line x1="930.9" y1="168" x2="930.9" y2="226" stroke="#181416" stroke-width="1.0" /><line x1="983.2" y1="168" x2="983.2" y2="226" stroke="#181416" stroke-width="1.0" /><line x1="929" y1="170.6" x2="985" y2="170.6" stroke="#181416" stroke-width="1.0" /><polygon points="930.9,170.6 936.4,169.5 936.4,171.7" fill="#181416" /><polygon points="983.2,170.6 977.7,169.5 977.7,171.7" fill="#181416" /><ellipse cx="950.23" cy="165.29" rx="2.79" ry="3.04" fill="none" stroke="#181416" stroke-width="1.0" /><line x1="948.11" y1="169.69" x2="952.36" y2="160.89" stroke="#181416" stroke-width="1.0" /><text x="954.77" y="168.6" font-size="9.2" text-anchor="start" fill="#181416" font-weight="bold" >80</text><line x1="933" y1="180" x2="933" y2="226" stroke="#181416" stroke-width="1.0" /><line x1="981" y1="180" x2="981" y2="226" stroke="#181416" stroke-width="1.0" /><line x1="931.5" y1="182.4" x2="982.5" y2="182.4" stroke="#181416" stroke-width="1.0" /><polygon points="933,182.4 938.5,181.3 938.5,183.5" fill="#181416" /><polygon points="981,182.4 975.5,181.3 975.5,183.5" fill="#181416" /><text x="956.6" y="179.8" font-size="9.2" text-anchor="middle" fill="#181416" font-weight="bold" >70</text><line x1="938.7" y1="191.5" x2="938.7" y2="208" stroke="#181416" stroke-width="1.0" /><line x1="975.7" y1="191.5" x2="975.7" y2="208" stroke="#181416" stroke-width="1.0" /><line x1="928" y1="193.8" x2="985.3" y2="193.8" stroke="#181416" stroke-width="1.0" /><polygon points="938.7,193.8 933.2,192.7 933.2,194.9" fill="#181416" /><polygon points="975.7,193.8 981.2,192.7 981.2,194.9" fill="#181416" /><text x="956.8" y="192.2" font-size="9.2" text-anchor="middle" fill="#181416" font-weight="bold" >56.5</text><text x="990.8" y="184" font-size="9.4" text-anchor="start" fill="#181416" font-weight="bold" >4-</text><ellipse cx="1002.46" cy="180.62" rx="2.85" ry="3.1" fill="none" stroke="#181416" stroke-width="1.0" /><line x1="1000.29" y1="185.11" x2="1004.63" y2="176.12" stroke="#181416" stroke-width="1.0" /><text x="1007.06" y="184" font-size="9.4" text-anchor="start" fill="#181416" font-weight="bold" >9</text><line x1="988.4" y1="186.4" x2="1015.2" y2="186.4" stroke="#181416" stroke-width="1.0" /><line x1="988.4" y1="186.4" x2="976.6" y2="206.8" stroke="#181416" stroke-width="1.1" /><rect x="948.8" y="258.5" width="17" height="16.5" fill="url(#brd)" /><line x1="955.4" y1="255.6" x2="955.4" y2="257.8" stroke="#181416" stroke-width="0.6" /><line x1="958.6" y1="255.6" x2="958.6" y2="257.8" stroke="#181416" stroke-width="0.6" /><line x1="949.4" y1="275.4" x2="1018.8" y2="275.4" stroke="#181416" stroke-width="1.0" /><rect x="923.2" y="293.5" width="67.6" height="8.8" fill="url(#bhat)" stroke="#181416" stroke-width="0.9"/><path d="M933.1 293.7V286.2L936 284.2H979.2L982.1 286.2V293.7Z" fill="#2a2a2d" /><rect x="939.7" y="277.8" width="35" height="53" fill="url(#bdk)" rx="2"/><rect x="939.7" y="294" width="35" height="36.8" fill="url(#bdk)" /><line x1="939.7" y1="293.6" x2="974.7" y2="293.6" stroke="#0c0c0c" stroke-width="0.6" /><rect x="939.7" y="323.7" width="35" height="1.3" fill="#77777b" /><rect x="940" y="322.9" width="2.4" height="3.1" fill="#ececec" /><rect x="972" y="322.9" width="2.4" height="3.1" fill="#ececec" /><circle cx="957" cy="324.4" r="5" fill="#e9e9ea" stroke="#1a1a1c" stroke-width="0.9" /><circle cx="957" cy="324.4" r="2.5" fill="#fff" stroke="#9a9a9c" stroke-width="0.4" /><line x1="982.1" y1="284.2" x2="1004.4" y2="284.2" stroke="#181416" stroke-width="1.0" /><line x1="990.8" y1="293.5" x2="1019" y2="293.5" stroke="#181416" stroke-width="1.0" /><line x1="1001.9" y1="273.7" x2="1001.9" y2="304" stroke="#181416" stroke-width="1.0" /><polygon points="1001.9,284.2 1000.8,278.7 1003,278.7" fill="#181416" /><polygon points="1001.9,293.5 1000.8,299 1003,299" fill="#181416" /><line x1="1016.3" y1="264.9" x2="1016.3" y2="304.6" stroke="#181416" stroke-width="1.0" /><polygon points="1016.3,275.4 1015.2,269.9 1017.4,269.9" fill="#181416" /><polygon points="1016.3,293.5 1015.2,299 1017.4,299" fill="#181416" /><text x="999.7" y="288.8" font-size="8.4" text-anchor="middle" fill="#181416" font-weight="bold" transform="rotate(-90 999.7 288.8)" >13</text><text x="1014.3" y="285.9" font-size="8.4" text-anchor="middle" fill="#181416" font-weight="bold" transform="rotate(-90 1014.3 285.9)" >24</text><line x1="939.7" y1="330" x2="939.7" y2="340.2" stroke="#181416" stroke-width="1.0" /><line x1="974.7" y1="330" x2="974.7" y2="340.2" stroke="#181416" stroke-width="1.0" /><line x1="937.2" y1="337.8" x2="1034" y2="337.8" stroke="#181416" stroke-width="1.0" /><polygon points="939.7,337.8 945.2,336.7 945.2,338.9" fill="#181416" /><polygon points="974.7,337.8 969.2,336.7 969.2,338.9" fill="#181416" /><text x="979.8" y="335.5" font-size="9" text-anchor="start" fill="#181416" font-weight="bold" >Body</text><ellipse cx="1005.43" cy="331.97" rx="2.98" ry="3.23" fill="none" stroke="#181416" stroke-width="1.0" /><line x1="1003.17" y1="336.66" x2="1007.7" y2="327.28" stroke="#181416" stroke-width="1.0" /><text x="1015.9" y="325.9" font-size="9.9" text-anchor="start" fill="#181416" font-weight="bold" letter-spacing="1.7" >+2</text><text x="1015.9" y="335.6" font-size="9.9" text-anchor="start" fill="#181416" font-weight="bold" letter-spacing="1.6" >+0.5</text><path d="M1067.2 255V296A26.4 10.4 0 0 0 1120 296V255Z" fill="url(#bdk)" /><path d="M1067.2 288A26.4 10.4 0 0 0 1120 288" fill="none" stroke="#191919" stroke-width="0.7" /><path d="M1044.6 233L1094.1 261.6L1143.2 232.5V243.5L1094.1 272.6L1044.6 244.5Z" fill="#2f2f32" stroke="#2f2f32" stroke-width="1.2" stroke-linejoin="round"/><path d="M1044.6 238.8L1094.1 267.2L1143.2 238.2" fill="none" stroke="#4e4e52" stroke-width="0.6" /><line x1="1094.1" y1="261.6" x2="1094.1" y2="272.6" stroke="#4e4e52" stroke-width="0.6" /><path d="M1046.2 232.2Q1044.2 233.2 1046.4 234.4L1091.6 260.3Q1094.1 261.6 1096.6 260.3L1141.4 233.6Q1143.4 232.4 1141.4 231.2L1096.6 206.5Q1094.1 205.2 1091.6 206.5Z" fill="#404044" stroke="#5b5b5f" stroke-width="0.7" /><ellipse cx="1054" cy="233" rx="5.2" ry="3.1" fill="#242426" stroke="#5a5a5f" stroke-width="0.6" /><ellipse cx="1054" cy="233.9" rx="3.6" ry="1.9" fill="#3f3f43" /><ellipse cx="1133.5" cy="232.6" rx="5.2" ry="3.1" fill="#242426" stroke="#5a5a5f" stroke-width="0.6" /><ellipse cx="1133.5" cy="233.5" rx="3.6" ry="1.9" fill="#3f3f43" /><ellipse cx="1093.5" cy="256.6" rx="5.2" ry="3.1" fill="#242426" stroke="#5a5a5f" stroke-width="0.6" /><ellipse cx="1093.5" cy="257.5" rx="3.6" ry="1.9" fill="#3f3f43" /><path d="M1067.5 229.5V234A26 12.3 0 0 0 1119.5 234V229.5Z" fill="#2b2b2e" /><ellipse cx="1093.5" cy="229.8" rx="26" ry="12.3" fill="#3e3e42" stroke="#606065" stroke-width="0.7" /><ellipse cx="1093.5" cy="229.2" rx="20" ry="9.2" fill="#313134" /><path d="M1080.7 203.8V225.5A13 6 0 0 0 1106.8 225.5V203.8Z" fill="url(#brd)" /><ellipse cx="1093.75" cy="203.8" rx="13.05" ry="6.3" fill="#efeff0" stroke="#a1a1a4" stroke-width="0.7" /><ellipse cx="1093.75" cy="203.6" rx="3.6" ry="2" fill="#9b9b9e" stroke="#77777a" stroke-width="0.5" /><ellipse cx="1076" cy="293.2" rx="4.6" ry="5.6" fill="#f0f0f1" stroke="#212123" stroke-width="1" /><circle cx="1076.4" cy="293.6" r="1.7" fill="#bdbdc0" stroke="#77777a" stroke-width="0.4" /><path d="M1080 296L1084.5 297L1080 299.5Z" fill="#e3e3e4" /></svg>
<svg width="1200" height="884" aria-label="NFFC-750 drawing"><defs><linearGradient id="cdk" x1="0" y1="0" x2="1" y2="0"><stop offset="0" stop-color="#222224"/><stop offset="0.06" stop-color="#313134"/><stop offset="0.22" stop-color="#454548"/><stop offset="0.3" stop-color="#4f4f53"/><stop offset="0.42" stop-color="#404044"/><stop offset="0.6" stop-color="#353539"/><stop offset="0.85" stop-color="#2d2d30"/><stop offset="0.95" stop-color="#36363a"/><stop offset="1" stop-color="#1e1e20"/></linearGradient><linearGradient id="crd" x1="0" y1="0" x2="1" y2="0"><stop offset="0" stop-color="#6d6d70"/><stop offset="0.12" stop-color="#a4a4a7"/><stop offset="0.32" stop-color="#ececed"/><stop offset="0.45" stop-color="#fafafa"/><stop offset="0.65" stop-color="#cfcfd1"/><stop offset="0.85" stop-color="#9d9da0"/><stop offset="1" stop-color="#69696c"/></linearGradient><linearGradient id="cmd" x1="0" y1="0" x2="1" y2="0"><stop offset="0" stop-color="#2e2e31"/><stop offset="0.08" stop-color="#4a4a4e"/><stop offset="0.25" stop-color="#6c6c71"/><stop offset="0.32" stop-color="#7d7d82"/><stop offset="0.45" stop-color="#5e5e63"/><stop offset="0.65" stop-color="#4a4a4f"/><stop offset="0.9" stop-color="#3d3d41"/><stop offset="1" stop-color="#252528"/></linearGradient><pattern id="chat" width="3.6" height="3.6" patternUnits="userSpaceOnUse" patternTransform="rotate(-45)"><rect width="3.6" height="3.6" fill="#fefefe"/><line x1="0" y1="0" x2="0" y2="3.6" stroke="#131313" stroke-width="1.9"/></pattern></defs><rect x="679.2" y="402.9" width="49.2" height="47.9" fill="#38383b" /><rect x="698.3" y="402.9" width="10.5" height="8.4" fill="#f6f6f6" /><rect x="698.3" y="444.6" width="10.5" height="6.2" fill="#f6f6f6" /><circle cx="703.7" cy="426.8" r="22.7" fill="none" stroke="#141416" stroke-width="0.9" /><circle cx="703.7" cy="426.8" r="12" fill="none" stroke="#2a2a2d" stroke-width="0.6" /><circle cx="703.7" cy="426.8" r="6.6" fill="#d6d4d5" stroke="#8a8a8c" stroke-width="0.6" /><circle cx="703.7" cy="426.8" r="3.6" fill="#f7f7f7" /><circle cx="703.7" cy="426.8" r="1.5" fill="#777" /><circle cx="686.9" cy="410.4" r="2.9" fill="#d8d4d2" stroke="#151515" stroke-width="0.6" /><circle cx="686.9" cy="410.4" r="1.3" fill="#3a3a3a" /><line x1="684" y1="410.4" x2="689.8" y2="410.4" stroke="#222" stroke-width="0.4" /><line x1="686.9" y1="407.5" x2="686.9" y2="413.3" stroke="#222" stroke-width="0.4" /><circle cx="686.9" cy="444.6" r="2.9" fill="#d8d4d2" stroke="#151515" stroke-width="0.6" /><circle cx="686.9" cy="444.6" r="1.3" fill="#3a3a3a" /><line x1="684" y1="444.6" x2="689.8" y2="444.6" stroke="#222" stroke-width="0.4" /><line x1="686.9" y1="441.7" x2="686.9" y2="447.5" stroke="#222" stroke-width="0.4" /><circle cx="720.9" cy="410.4" r="2.9" fill="#d8d4d2" stroke="#151515" stroke-width="0.6" /><circle cx="720.9" cy="410.4" r="1.3" fill="#3a3a3a" /><line x1="718" y1="410.4" x2="723.8" y2="410.4" stroke="#222" stroke-width="0.4" /><line x1="720.9" y1="407.5" x2="720.9" y2="413.3" stroke="#222" stroke-width="0.4" /><circle cx="720.9" cy="444.6" r="2.9" fill="#d8d4d2" stroke="#151515" stroke-width="0.6" /><circle cx="720.9" cy="444.6" r="1.3" fill="#3a3a3a" /><line x1="718" y1="444.6" x2="723.8" y2="444.6" stroke="#222" stroke-width="0.4" /><line x1="720.9" y1="441.7" x2="720.9" y2="447.5" stroke="#222" stroke-width="0.4" /><line x1="703.7" y1="401" x2="703.7" y2="452" stroke="#181416" stroke-width="0.8" /><line x1="673.4" y1="426.8" x2="733.6" y2="426.8" stroke="#181416" stroke-width="0.8" /><line x1="686.9" y1="410.4" x2="686.9" y2="444.6" stroke="#181416" stroke-width="0.5" /><line x1="720.9" y1="410.4" x2="720.9" y2="444.6" stroke="#181416" stroke-width="0.5" /><line x1="686.9" y1="410.4" x2="720.9" y2="410.4" stroke="#181416" stroke-width="0.5" /><line x1="686.9" y1="444.6" x2="720.9" y2="444.6" stroke="#181416" stroke-width="0.5" /><line x1="673.4" y1="426.8" x2="673.4" y2="416" stroke="#181416" stroke-width="1" /><polygon points="673.4,412.7 672.1,419.2 674.7,419.2" fill="#181416" /><line x1="733.6" y1="426.8" x2="733.6" y2="416" stroke="#181416" stroke-width="1" /><polygon points="733.6,412.7 732.3,419.2 734.9,419.2" fill="#181416" /><line x1="679.2" y1="379.7" x2="679.2" y2="403" stroke="#181416" stroke-width="1.0" /><line x1="728.4" y1="379.7" x2="728.4" y2="403" stroke="#181416" stroke-width="1.0" /><line x1="677.5" y1="382" x2="730" y2="382" stroke="#181416" stroke-width="1.0" /><polygon points="679.2,382 684.7,380.9 684.7,383.1" fill="#181416" /><polygon points="728.4,382 722.9,380.9 722.9,383.1" fill="#181416" /><text x="704.1" y="380.2" font-size="9" text-anchor="middle" fill="#181416" font-weight="bold" >75</text><line x1="686.9" y1="391" x2="686.9" y2="410" stroke="#181416" stroke-width="1.0" /><line x1="720.9" y1="391" x2="720.9" y2="410" stroke="#181416" stroke-width="1.0" /><line x1="676.7" y1="393.6" x2="762.8" y2="393.6" stroke="#181416" stroke-width="1.0" /><polygon points="686.9,393.6 681.4,392.5 681.4,394.7" fill="#181416" /><polygon points="720.9,393.6 726.4,392.5 726.4,394.7" fill="#181416" /><text x="704.4" y="391.6" font-size="9" text-anchor="middle" fill="#181416" font-weight="bold" >56.5</text><text x="740.2" y="391.6" font-size="9.2" text-anchor="start" fill="#181416" font-weight="bold" >4-</text><ellipse cx="751.61" cy="388.29" rx="2.79" ry="3.04" fill="none" stroke="#181416" stroke-width="1.0" /><line x1="749.49" y1="392.69" x2="753.74" y2="383.89" stroke="#181416" stroke-width="1.0" /><text x="756.15" y="391.6" font-size="9.2" text-anchor="start" fill="#181416" font-weight="bold" >9</text><line x1="737.1" y1="393.6" x2="663.1" y2="469.5" stroke="#181416" stroke-width="1.1" /><g transform="rotate(-45 666.8 458.8)"><ellipse cx="661.26" cy="458.63" rx="2.67" ry="2.9" fill="none" stroke="#181416" stroke-width="1.0" /><line x1="659.22" y1="462.84" x2="663.29" y2="454.42" stroke="#181416" stroke-width="1.0" /><text x="665.66" y="461.8" font-size="8.8" text-anchor="start" fill="#181416" font-weight="bold" >80</text></g><line x1="728.4" y1="402.9" x2="760.2" y2="402.9" stroke="#181416" stroke-width="1.0" /><line x1="721" y1="410.4" x2="749" y2="410.4" stroke="#181416" stroke-width="1.0" /><line x1="721" y1="444.6" x2="749" y2="444.6" stroke="#181416" stroke-width="1.0" /><line x1="728.4" y1="450.8" x2="760.2" y2="450.8" stroke="#181416" stroke-width="1.0" /><line x1="746.4" y1="400.4" x2="746.4" y2="454.6" stroke="#181416" stroke-width="1.0" /><polygon points="746.4,410.4 745.3,404.9 747.5,404.9" fill="#181416" /><polygon points="746.4,444.6 745.3,450.1 747.5,450.1" fill="#181416" /><line x1="758" y1="402.9" x2="758" y2="450.8" stroke="#181416" stroke-width="1.0" /><polygon points="758,402.9 756.9,408.4 759.1,408.4" fill="#181416" /><polygon points="758,450.8 756.9,445.3 759.1,445.3" fill="#181416" /><text x="744.6" y="426" font-size="8.6" text-anchor="middle" fill="#181416" font-weight="bold" transform="rotate(-90 744.6 426)" >56.5</text><text x="756.2" y="426" font-size="8.6" text-anchor="middle" fill="#181416" font-weight="bold" transform="rotate(-90 756.2 426)" >75</text><line x1="698.3" y1="451" x2="698.3" y2="466.2" stroke="#181416" stroke-width="1.0" /><line x1="708.8" y1="451" x2="708.8" y2="466.2" stroke="#181416" stroke-width="1.0" /><line x1="688" y1="464.1" x2="719" y2="464.1" stroke="#181416" stroke-width="1.0" /><polygon points="698.3,464.1 692.8,463 692.8,465.2" fill="#181416" /><polygon points="708.8,464.1 714.3,463 714.3,465.2" fill="#181416" /><text x="703.5" y="461.9" font-size="9" text-anchor="middle" fill="#181416" font-weight="bold" >24</text><rect x="695.7" y="470.3" width="15.9" height="18" fill="url(#crd)" /><line x1="702.2" y1="467.6" x2="702.2" y2="469.6" stroke="#181416" stroke-width="0.6" /><line x1="705.2" y1="467.6" x2="705.2" y2="469.6" stroke="#181416" stroke-width="0.6" /><rect x="695.2" y="486.2" width="17" height="2" fill="#8a8a8c" /><rect x="671.3" y="536.2" width="64.5" height="9.3" fill="url(#chat)" stroke="#181416" stroke-width="0.9"/><path d="M679.4 536.3V532L682 530H725.8L728.4 532V536.3Z" fill="#242427" /><rect x="688" y="488" width="31.7" height="43.5" fill="url(#cdk)" /><line x1="688" y1="488.3" x2="719.7" y2="488.3" stroke="#0c0c0c" stroke-width="0.8" /><line x1="688" y1="496.6" x2="719.7" y2="496.6" stroke="#151517" stroke-width="0.7" /><line x1="688" y1="497.5" x2="719.7" y2="497.5" stroke="#5a5a5e" stroke-width="0.5" /><circle cx="703.4" cy="529.6" r="3.9" fill="#e9e9ea" stroke="#1a1a1c" stroke-width="0.9" /><circle cx="703.4" cy="529.6" r="1.95" fill="#fff" stroke="#9a9a9c" stroke-width="0.4" /><line x1="728.4" y1="530.2" x2="748.2" y2="530.2" stroke="#181416" stroke-width="1.0" /><line x1="735.8" y1="536.3" x2="748.2" y2="536.3" stroke="#181416" stroke-width="1.0" /><line x1="744.7" y1="514" x2="744.7" y2="546.7" stroke="#181416" stroke-width="1.0" /><polygon points="744.7,530.2 743.6,524.7 745.8,524.7" fill="#181416" /><polygon points="744.7,536.3 743.6,541.8 745.8,541.8" fill="#181416" /><text x="743" y="518.4" font-size="8.6" text-anchor="middle" fill="#181416" font-weight="bold" transform="rotate(-90 743 518.4)" >12</text><path d="M785 479.6L831.6 508.2L879.1 480.3V488.3L831.6 516.2L785 487.6Z" fill="#2b2b2e" stroke="#2b2b2e" stroke-width="1" stroke-linejoin="round"/><path d="M785 479.6L832.3 452.2L879.1 480.3L831.6 508.2Z" fill="#434347" stroke="#5c5c60" stroke-width="0.7" stroke-linejoin="round"/><path d="M802.9 490.6L813.6 497.1L826.5 489.6L815.5 483.2Z" fill="#fefefe" /><path d="M802.9 490.6L813.6 497.1V506.3L802.9 499.8Z" fill="#fefefe" /><path d="M813.6 497.1L826.5 489.6V497.6L813.6 505.1Z" fill="#313134" /><path d="M815.5 483.2L826.5 489.6V497.6L815.5 491.2Z" fill="#242426" /><ellipse cx="798.5" cy="480" rx="4.2" ry="2.5" fill="#232325" stroke="#55555a" stroke-width="0.6" /><ellipse cx="865.4" cy="479.6" rx="4.2" ry="2.5" fill="#232325" stroke="#55555a" stroke-width="0.6" /><ellipse cx="831.8" cy="499.4" rx="4.2" ry="2.5" fill="#232325" stroke="#55555a" stroke-width="0.6" /><path d="M810 432.5V481A22.45 10.4 0 0 0 854.9 481V432.5Z" fill="url(#cdk)" /><path d="M810 451.5A22.45 10.4 0 0 0 854.9 451.5" fill="none" stroke="#191919" stroke-width="0.8" /><path d="M810 453A22.45 10.4 0 0 0 854.9 453" fill="none" stroke="#525256" stroke-width="0.5" /><ellipse cx="832.45" cy="432.5" rx="22.45" ry="10.5" fill="#3e3e42" stroke="#59595e" stroke-width="0.7" /><ellipse cx="832.45" cy="432" rx="17.5" ry="7.8" fill="#303033" /><path d="M821.8 412.6V430.5A10.6 4.8 0 0 0 843 430.5V412.6Z" fill="url(#crd)" /><ellipse cx="832.4" cy="412.6" rx="10.6" ry="5" fill="#efeff0" stroke="#a1a1a4" stroke-width="0.7" /><ellipse cx="832.4" cy="412.4" rx="5.2" ry="2.4" fill="#c9c9cb" stroke="#8a8a8d" stroke-width="0.5" /><ellipse cx="832.4" cy="412.4" rx="2" ry="1" fill="#77777a" /><ellipse cx="816.2" cy="489.2" rx="4" ry="4.9" fill="#f0f0f1" stroke="#212123" stroke-width="0.9" /><circle cx="816.6" cy="489.6" r="1.5" fill="#bdbdc0" stroke="#77777a" stroke-width="0.4" /></svg>
<svg width="1200" height="884" aria-label="NFMP-750 drawing"><defs><linearGradient id="ddk" x1="0" y1="0" x2="1" y2="0"><stop offset="0" stop-color="#222224"/><stop offset="0.06" stop-color="#313134"/><stop offset="0.22" stop-color="#454548"/><stop offset="0.3" stop-color="#4f4f53"/><stop offset="0.42" stop-color="#404044"/><stop offset="0.6" stop-color="#353539"/><stop offset="0.85" stop-color="#2d2d30"/><stop offset="0.95" stop-color="#36363a"/><stop offset="1" stop-color="#1e1e20"/></linearGradient><linearGradient id="drd" x1="0" y1="0" x2="1" y2="0"><stop offset="0" stop-color="#6d6d70"/><stop offset="0.12" stop-color="#a4a4a7"/><stop offset="0.32" stop-color="#ececed"/><stop offset="0.45" stop-color="#fafafa"/><stop offset="0.65" stop-color="#cfcfd1"/><stop offset="0.85" stop-color="#9d9da0"/><stop offset="1" stop-color="#69696c"/></linearGradient><linearGradient id="dmd" x1="0" y1="0" x2="1" y2="0"><stop offset="0" stop-color="#2e2e31"/><stop offset="0.08" stop-color="#4a4a4e"/><stop offset="0.25" stop-color="#6c6c71"/><stop offset="0.32" stop-color="#7d7d82"/><stop offset="0.45" stop-color="#5e5e63"/><stop offset="0.65" stop-color="#4a4a4f"/><stop offset="0.9" stop-color="#3d3d41"/><stop offset="1" stop-color="#252528"/></linearGradient><pattern id="dhat" width="3.6" height="3.6" patternUnits="userSpaceOnUse" patternTransform="rotate(-45)"><rect width="3.6" height="3.6" fill="#fefefe"/><line x1="0" y1="0" x2="0" y2="3.6" stroke="#131313" stroke-width="1.9"/></pattern><pattern id="dhat2" width="3.2" height="3.2" patternUnits="userSpaceOnUse" patternTransform="rotate(45)"><rect width="3.2" height="3.2" fill="#2f2f33"/><line x1="0" y1="0" x2="0" y2="3.2" stroke="#0a0a0a" stroke-width="1.4"/></pattern></defs><rect x="940" y="392.7" width="48.4" height="48.1" fill="#3a3a3d" /><ellipse cx="963.3" cy="417.3" rx="10" ry="6" fill="none" stroke="#28282b" stroke-width="0.8" /><circle cx="963.3" cy="417.3" r="5.8" fill="none" stroke="#121214" stroke-width="1" /><circle cx="946.1" cy="399.7" r="2.5" fill="#2a2a2d" stroke="#d9d5d3" stroke-width="0.8" /><line x1="940.1" y1="399.7" x2="952.1" y2="399.7" stroke="#161618" stroke-width="0.5" /><line x1="946.1" y1="393.7" x2="946.1" y2="405.7" stroke="#161618" stroke-width="0.5" /><circle cx="946.1" cy="435" r="2.5" fill="#2a2a2d" stroke="#d9d5d3" stroke-width="0.8" /><line x1="940.1" y1="435" x2="952.1" y2="435" stroke="#161618" stroke-width="0.5" /><line x1="946.1" y1="429" x2="946.1" y2="441" stroke="#161618" stroke-width="0.5" /><circle cx="981.4" cy="399.7" r="2.5" fill="#2a2a2d" stroke="#d9d5d3" stroke-width="0.8" /><line x1="975.4" y1="399.7" x2="987.4" y2="399.7" stroke="#161618" stroke-width="0.5" /><line x1="981.4" y1="393.7" x2="981.4" y2="405.7" stroke="#161618" stroke-width="0.5" /><circle cx="981.4" cy="435" r="2.5" fill="#2a2a2d" stroke="#d9d5d3" stroke-width="0.8" /><line x1="975.4" y1="435" x2="987.4" y2="435" stroke="#161618" stroke-width="0.5" /><line x1="981.4" y1="429" x2="981.4" y2="441" stroke="#161618" stroke-width="0.5" /><line x1="963.3" y1="391.3" x2="963.3" y2="443.2" stroke="#181416" stroke-width="0.8" /><line x1="937" y1="417.3" x2="993.1" y2="417.3" stroke="#181416" stroke-width="0.8" /><line x1="993.1" y1="417.3" x2="993.1" y2="428" stroke="#181416" stroke-width="1" /><polygon points="993.1,435.6 991.6,426.6 994.6,426.6" fill="#181416" /><line x1="934.2" y1="435" x2="946" y2="435" stroke="#181416" stroke-width="1" /><line x1="934.2" y1="435" x2="934.2" y2="445" stroke="#181416" stroke-width="1" /><polygon points="934.2,452.5 932.7,443.5 935.7,443.5" fill="#181416" /><line x1="992.5" y1="412.2" x2="993.9" y2="412.2" stroke="#181416" stroke-width="0.6" /><line x1="933.6" y1="431" x2="935" y2="431" stroke="#181416" stroke-width="0.6" /><line x1="940" y1="376" x2="940" y2="393" stroke="#181416" stroke-width="1.0" /><line x1="988.4" y1="376" x2="988.4" y2="393" stroke="#181416" stroke-width="1.0" /><line x1="938.5" y1="379.6" x2="990" y2="379.6" stroke="#181416" stroke-width="1.0" /><polygon points="940,379.6 945.5,378.5 945.5,380.7" fill="#181416" /><polygon points="988.4,379.6 982.9,378.5 982.9,380.7" fill="#181416" /><text x="964.3" y="377.7" font-size="7.8" text-anchor="middle" fill="#181416" font-weight="bold" >75</text><line x1="946.1" y1="387.2" x2="946.1" y2="400" stroke="#181416" stroke-width="1.0" /><line x1="981.4" y1="387.2" x2="981.4" y2="400" stroke="#181416" stroke-width="1.0" /><line x1="944.5" y1="389.7" x2="983" y2="389.7" stroke="#181416" stroke-width="1.0" /><polygon points="946.1,389.7 951.6,388.6 951.6,390.8" fill="#181416" /><polygon points="981.4,389.7 975.9,388.6 975.9,390.8" fill="#181416" /><text x="964.3" y="387.5" font-size="7.9" text-anchor="middle" fill="#181416" font-weight="bold" >56.5</text><line x1="957.3" y1="417.5" x2="957.3" y2="452.5" stroke="#181416" stroke-width="1.0" /><line x1="969.8" y1="417.5" x2="969.8" y2="452.5" stroke="#181416" stroke-width="1.0" /><line x1="949.9" y1="450.8" x2="994.8" y2="450.8" stroke="#181416" stroke-width="1.0" /><polygon points="957.3,450.8 951.8,449.7 951.8,451.9" fill="#181416" /><polygon points="969.8,450.8 975.3,449.7 975.3,451.9" fill="#181416" /><ellipse cx="981.51" cy="445.55" rx="2.49" ry="2.71" fill="none" stroke="#181416" stroke-width="1.0" /><line x1="979.61" y1="449.47" x2="983.4" y2="441.62" stroke="#181416" stroke-width="1.0" /><text x="985.71" y="448.5" font-size="8.2" text-anchor="start" fill="#181416" font-weight="bold" >20</text><line x1="961.3" y1="454.4" x2="961.3" y2="456.2" stroke="#181416" stroke-width="0.6" /><line x1="964.5" y1="454.4" x2="964.5" y2="456.2" stroke="#181416" stroke-width="0.6" /><line x1="961.3" y1="455.3" x2="964.5" y2="455.3" stroke="#181416" stroke-width="0.5" /><rect x="955.7" y="459.7" width="16.9" height="17.4" fill="url(#drd)" stroke="#1b1b1d" stroke-width="0.7"/><rect x="947.7" y="476.6" width="32.2" height="41" fill="url(#ddk)" /><line x1="947.7" y1="477" x2="979.9" y2="477" stroke="#0c0c0c" stroke-width="0.9" /><line x1="947.7" y1="483" x2="979.9" y2="483" stroke="#08080a" stroke-width="0.7" /><line x1="947.7" y1="509.8" x2="979.9" y2="509.8" stroke="#08080a" stroke-width="0.7" /><rect x="939.9" y="517.4" width="47.9" height="12.9" fill="url(#dhat2)" /><rect x="939.9" y="517.4" width="7" height="12.9" fill="#27272a" /><rect x="955.5" y="517.4" width="15" height="12.9" fill="#2a2a2d" /><circle cx="963.6" cy="513.9" r="3.2" fill="#e9e9ea" stroke="#1a1a1c" stroke-width="0.9" /><circle cx="963.6" cy="513.9" r="1.6" fill="#fff" stroke="#9a9a9c" stroke-width="0.4" /><ellipse cx="918.71" cy="501.96" rx="2.31" ry="2.51" fill="none" stroke="#181416" stroke-width="1.0" /><line x1="916.95" y1="505.6" x2="920.46" y2="498.33" stroke="#181416" stroke-width="1.0" /><text x="922.02" y="504.7" font-size="7.6" text-anchor="start" fill="#181416" font-weight="bold" >9(4x)</text><line x1="914.3" y1="506.4" x2="953" y2="506.4" stroke="#181416" stroke-width="1.0" /><polygon points="955.7,506.4 950.7,505.4 950.7,507.4" fill="#181416" /><ellipse cx="984.41" cy="504.56" rx="2.31" ry="2.51" fill="none" stroke="#181416" stroke-width="1.0" /><line x1="982.65" y1="508.2" x2="986.16" y2="500.93" stroke="#181416" stroke-width="1.0" /><text x="987.72" y="507.3" font-size="7.6" text-anchor="start" fill="#181416" font-weight="bold" >9(2x)</text><line x1="960.3" y1="509.3" x2="1005.5" y2="509.3" stroke="#181416" stroke-width="1.0" /><text x="926.2" y="520.4" font-size="7.2" text-anchor="middle" fill="#181416" font-weight="bold" transform="rotate(-90 926.2 520.4)" >12(4x)</text><line x1="927.9" y1="510.4" x2="927.9" y2="537.3" stroke="#181416" stroke-width="1.0" /><polygon points="927.9,522.1 926.9,517.1 928.9,517.1" fill="#181416" /><polygon points="927.9,530.3 926.9,535.3 928.9,535.3" fill="#181416" /><line x1="927.1" y1="522.1" x2="1017.5" y2="522.1" stroke="#181416" stroke-width="1.0" /><line x1="987.8" y1="518" x2="1034.4" y2="518" stroke="#181416" stroke-width="1.0" /><line x1="927" y1="530.3" x2="1034.4" y2="530.3" stroke="#181416" stroke-width="1.0" /><text x="1013.2" y="502.8" font-size="7.2" text-anchor="middle" fill="#181416" font-weight="bold" transform="rotate(-90 1013.2 502.8)" >14(2x)</text><line x1="1014.8" y1="492.9" x2="1014.8" y2="537.3" stroke="#181416" stroke-width="1.0" /><polygon points="1014.8,522.1 1013.8,517.1 1015.8,517.1" fill="#181416" /><polygon points="1014.8,530.3 1013.8,535.3 1015.8,535.3" fill="#181416" /><text x="1024.2" y="495.8" font-size="8" text-anchor="middle" fill="#181416" font-weight="bold" transform="rotate(-90 1024.2 495.8)" >0</text><text x="1030.2" y="499.8" font-size="8" text-anchor="middle" fill="#181416" font-weight="bold" letter-spacing="0.3" transform="rotate(-90 1030.2 499.8)" >20 - 0.1</text><line x1="1032.1" y1="491.8" x2="1032.1" y2="531.4" stroke="#181416" stroke-width="1.0" /><polygon points="1032.1,518 1031.1,513 1033.1,513" fill="#181416" /><polygon points="1032.1,530.3 1031.1,535.3 1033.1,535.3" fill="#181416" /><line x1="941.1" y1="505" x2="941.1" y2="551.3" stroke="#181416" stroke-width="0.8" /><line x1="946.1" y1="505" x2="946.1" y2="551.3" stroke="#181416" stroke-width="0.8" /><line x1="950.4" y1="517" x2="950.4" y2="551.3" stroke="#181416" stroke-width="0.8" /><line x1="965.9" y1="509" x2="965.9" y2="551.3" stroke="#181416" stroke-width="0.8" /><line x1="969.9" y1="530" x2="969.9" y2="551.3" stroke="#181416" stroke-width="0.8" /><line x1="974.6" y1="530" x2="974.6" y2="551.3" stroke="#181416" stroke-width="0.8" /><ellipse cx="911.91" cy="543.96" rx="2.31" ry="2.51" fill="none" stroke="#181416" stroke-width="1.0" /><line x1="910.15" y1="547.6" x2="913.66" y2="540.33" stroke="#181416" stroke-width="1.0" /><text x="915.22" y="546.7" font-size="7.6" text-anchor="start" fill="#181416" font-weight="bold" >15(4x)</text><ellipse cx="982.31" cy="543.96" rx="2.31" ry="2.51" fill="none" stroke="#181416" stroke-width="1.0" /><line x1="980.55" y1="547.6" x2="984.06" y2="540.33" stroke="#181416" stroke-width="1.0" /><text x="985.62" y="546.7" font-size="7.6" text-anchor="start" fill="#181416" font-weight="bold" >15(2x)</text><line x1="907.3" y1="548.4" x2="1007.6" y2="548.4" stroke="#181416" stroke-width="1.0" /><polygon points="941.1,548.4 936.6,547.4 936.6,549.4" fill="#181416" /><polygon points="950.4,548.4 954.9,547.4 954.9,549.4" fill="#181416" /><polygon points="965.9,548.4 961.4,547.4 961.4,549.4" fill="#181416" /><polygon points="974.6,548.4 979.1,547.4 979.1,549.4" fill="#181416" /><path d="M1050.3 465.1L1092.9 488.7L1134.1 465.1V476.90000000000003L1092.9 501.2L1050.3 476.90000000000003Z" fill="#2e2e31" stroke="#2e2e31" stroke-width="1" stroke-linejoin="round"/><path d="M1050.3 465.1L1092.9 488.7V501.2L1050.3 476.90000000000003Z" fill="#39393c" /><path d="M1050.3 465.1L1091.6 442.3L1134.1 465.1L1092.9 488.7Z" fill="#454549" stroke="#5e5e63" stroke-width="0.7" stroke-linejoin="round"/><ellipse cx="1060.6" cy="463.7" rx="3.5" ry="2.1" fill="#252527" stroke="#55555a" stroke-width="0.6" /><ellipse cx="1123.8" cy="463.7" rx="3.5" ry="2.1" fill="#252527" stroke="#55555a" stroke-width="0.6" /><ellipse cx="1092.2" cy="482" rx="3.5" ry="2.1" fill="#252527" stroke="#55555a" stroke-width="0.6" /><path d="M1072.6 423.2V466A19.9 9.2 0 0 0 1112.4 466V423.2Z" fill="url(#ddk)" /><path d="M1072.6 435A19.9 9.2 0 0 0 1112.4 435" fill="none" stroke="#191919" stroke-width="0.8" /><path d="M1072.6 461A19.9 9.2 0 0 0 1112.4 461" fill="none" stroke="#5a5a5f" stroke-width="0.7" /><ellipse cx="1092.5" cy="423.2" rx="19.9" ry="9.2" fill="#3d3d41" stroke="#59595e" stroke-width="0.7" /><ellipse cx="1092.5" cy="422.8" rx="15.5" ry="6.9" fill="#2f2f32" /><path d="M1082.6 404.1V421.5A9.95 4.6 0 0 0 1102.5 421.5V404.1Z" fill="url(#drd)" /><ellipse cx="1092.55" cy="404.1" rx="9.95" ry="4.9" fill="#f1f1f2" stroke="#a1a1a4" stroke-width="0.7" /><ellipse cx="1092.6" cy="403.8" rx="1.6" ry="0.9" fill="#6a6a6d" /><circle cx="1105.4" cy="467.6" r="3.1" fill="#e9e9ea" stroke="#212123" stroke-width="0.9" /><circle cx="1105.4" cy="467.6" r="1.2" fill="#55555a" /></svg>
<svg width="1200" height="884" aria-label="NFRMX-1000 drawing"><defs><linearGradient id="edk" x1="0" y1="0" x2="1" y2="0"><stop offset="0" stop-color="#222224"/><stop offset="0.06" stop-color="#313134"/><stop offset="0.22" stop-color="#454548"/><stop offset="0.3" stop-color="#4f4f53"/><stop offset="0.42" stop-color="#404044"/><stop offset="0.6" stop-color="#353539"/><stop offset="0.85" stop-color="#2d2d30"/><stop offset="0.95" stop-color="#36363a"/><stop offset="1" stop-color="#1e1e20"/></linearGradient><linearGradient id="erd" x1="0" y1="0" x2="1" y2="0"><stop offset="0" stop-color="#6d6d70"/><stop offset="0.12" stop-color="#a4a4a7"/><stop offset="0.32" stop-color="#ececed"/><stop offset="0.45" stop-color="#fafafa"/><stop offset="0.65" stop-color="#cfcfd1"/><stop offset="0.85" stop-color="#9d9da0"/><stop offset="1" stop-color="#69696c"/></linearGradient><linearGradient id="emd" x1="0" y1="0" x2="1" y2="0"><stop offset="0" stop-color="#2e2e31"/><stop offset="0.08" stop-color="#4a4a4e"/><stop offset="0.25" stop-color="#6c6c71"/><stop offset="0.32" stop-color="#7d7d82"/><stop offset="0.45" stop-color="#5e5e63"/><stop offset="0.65" stop-color="#4a4a4f"/><stop offset="0.9" stop-color="#3d3d41"/><stop offset="1" stop-color="#252528"/></linearGradient><pattern id="ehat" width="3.6" height="3.6" patternUnits="userSpaceOnUse" patternTransform="rotate(-45)"><rect width="3.6" height="3.6" fill="#fefefe"/><line x1="0" y1="0" x2="0" y2="3.6" stroke="#131313" stroke-width="1.9"/></pattern><pattern id="ehat2" width="3.0" height="3.0" patternUnits="userSpaceOnUse" patternTransform="rotate(45)"><rect width="3.0" height="3.0" fill="#5a5a5d"/><line x1="0" y1="0" x2="0" y2="3.0" stroke="#141416" stroke-width="1.2"/></pattern></defs><rect x="713" y="588.1" width="19.8" height="15" fill="url(#erd)" /><rect x="713" y="588.1" width="19.8" height="1.6" fill="#1a1a1c" /><rect x="713" y="588.1" width="19.8" height="15" fill="#77777a" opacity="0.35"/><line x1="713" y1="588.1" x2="713" y2="602.8" stroke="#181416" stroke-width="0.8" /><line x1="732.8" y1="588.1" x2="732.8" y2="602.8" stroke="#181416" stroke-width="0.8" /><rect x="696.2" y="626.6" width="52.8" height="15.7" fill="#3a3a3d" /><rect x="739" y="626.6" width="10" height="15.7" fill="url(#ehat2)" /><rect x="705.9" y="602.8" width="33.1" height="34.1" fill="url(#emd)" /><rect x="705.9" y="602.8" width="33.1" height="34.1" fill="#3f3f42" opacity="0.12"/><line x1="705.9" y1="603.2" x2="739" y2="603.2" stroke="#181416" stroke-width="0.9" /><line x1="705.9" y1="611.4" x2="739" y2="611.4" stroke="#181416" stroke-width="0.8" /><line x1="705.9" y1="614.1" x2="739" y2="614.1" stroke="#181416" stroke-width="0.8" /><line x1="705.9" y1="602.8" x2="705.9" y2="636.9" stroke="#181416" stroke-width="0.8" /><line x1="739" y1="602.8" x2="739" y2="636.9" stroke="#181416" stroke-width="0.8" /><line x1="696.2" y1="636.9" x2="749" y2="636.9" stroke="#181416" stroke-width="0.7" /><line x1="705.9" y1="631" x2="739" y2="631" stroke="#222" stroke-width="0.6" /><circle cx="723" cy="632" r="4.3" fill="#4a4a4d" stroke="#0e0e10" stroke-width="1.1" /><circle cx="723" cy="632" r="2" fill="#6a6a6d" stroke="#1a1a1c" stroke-width="0.6" /><line x1="723" y1="585" x2="723" y2="642" stroke="#181416" stroke-width="0.8" /><line x1="721.6" y1="585.8" x2="723" y2="587.4" stroke="#181416" stroke-width="0.5" /><line x1="724.4" y1="585.8" x2="723" y2="587.4" stroke="#181416" stroke-width="0.5" /><ellipse cx="745.81" cy="603.76" rx="2.4" ry="2.61" fill="none" stroke="#181416" stroke-width="1.0" /><line x1="743.98" y1="607.54" x2="747.63" y2="599.98" stroke="#181416" stroke-width="1.0" /><text x="749.31" y="606.6" font-size="7.9" text-anchor="start" fill="#181416" font-weight="bold" >50</text><line x1="704.3" y1="608.4" x2="757.6" y2="608.4" stroke="#181416" stroke-width="1.0" /><polygon points="705.9,608.4 710.9,607.4 710.9,609.4" fill="#181416" /><polygon points="739,608.4 734,607.4 734,609.4" fill="#181416" /><ellipse cx="670.11" cy="609.77" rx="2.22" ry="2.41" fill="none" stroke="#181416" stroke-width="1.0" /><line x1="668.42" y1="613.27" x2="671.8" y2="606.28" stroke="#181416" stroke-width="1.0" /><text x="673.32" y="612.4" font-size="7.3" text-anchor="start" fill="#181416" font-weight="bold" >11(4x)</text><line x1="665.8" y1="614.2" x2="705.9" y2="614.2" stroke="#181416" stroke-width="1.0" /><polygon points="700.5,614.2 695.5,613.2 695.5,615.2" fill="#181416" /><line x1="700.5" y1="611.4" x2="700.5" y2="642.3" stroke="#181416" stroke-width="1.0" /><line x1="698.9" y1="626" x2="698.9" y2="665" stroke="#181416" stroke-width="1.0" /><line x1="708.4" y1="636" x2="708.4" y2="665" stroke="#181416" stroke-width="1.0" /><text x="685.2" y="628.8" font-size="7.4" text-anchor="middle" fill="#181416" font-weight="bold" transform="rotate(-90 685.2 628.8)" >11(4x)</text><line x1="686.4" y1="619.5" x2="686.4" y2="652.6" stroke="#181416" stroke-width="1.0" /><polygon points="686.4,636.3 685.4,631.3 687.4,631.3" fill="#181416" /><polygon points="686.4,642.3 685.4,647.3 687.4,647.3" fill="#181416" /><line x1="681.5" y1="636.3" x2="696.2" y2="636.3" stroke="#181416" stroke-width="1.0" /><line x1="684.3" y1="642.3" x2="774.8" y2="642.3" stroke="#181416" stroke-width="1.0" /><ellipse cx="664.11" cy="658.17" rx="2.22" ry="2.41" fill="none" stroke="#181416" stroke-width="1.0" /><line x1="662.42" y1="661.67" x2="665.8" y2="654.68" stroke="#181416" stroke-width="1.0" /><text x="667.32" y="660.8" font-size="7.3" text-anchor="start" fill="#181416" font-weight="bold" >18(4x)</text><line x1="659.9" y1="662.6" x2="718.4" y2="662.6" stroke="#181416" stroke-width="1.0" /><polygon points="698.9,662.6 693.9,661.6 693.9,663.6" fill="#181416" /><polygon points="708.4,662.6 713.4,661.6 713.4,663.6" fill="#181416" /><line x1="749" y1="626.6" x2="774.8" y2="626.6" stroke="#181416" stroke-width="1.0" /><line x1="749" y1="636.9" x2="761.8" y2="636.9" stroke="#181416" stroke-width="1.0" /><text x="757.3" y="630.8" font-size="7.6" text-anchor="middle" fill="#181416" font-weight="bold" transform="rotate(-90 757.3 630.8)" >10</text><line x1="759.6" y1="626.6" x2="759.6" y2="652.6" stroke="#181416" stroke-width="1.0" /><polygon points="759.6,636.9 758.6,631.9 760.6,631.9" fill="#181416" /><polygon points="759.6,642.3 758.6,647.3 760.6,647.3" fill="#181416" /><text x="769.7" y="632.6" font-size="7.6" text-anchor="middle" fill="#181416" font-weight="bold" transform="rotate(-90 769.7 632.6)" >30</text><line x1="772.2" y1="616.3" x2="772.2" y2="652.6" stroke="#181416" stroke-width="1.0" /><polygon points="772.2,626.6 771.2,621.6 773.2,621.6" fill="#181416" /><polygon points="772.2,642.3 771.2,647.3 773.2,647.3" fill="#181416" /><rect x="697.2" y="670.2" width="52.2" height="52.4" fill="#59595c" /><path d="M714.4 711.5L708.2 722.8H738L731.8 711.5Z" fill="#fefefe" /><circle cx="723.1" cy="696.4" r="15.8" fill="#505053" stroke="#2a2a2d" stroke-width="1" /><circle cx="723.1" cy="696.4" r="9" fill="#7f7f82" stroke="#a5a5a8" stroke-width="0.7" /><circle cx="723.1" cy="696.4" r="6.4" fill="#a9a9ac" stroke="#c9c9cb" stroke-width="0.6" /><line x1="706.16" y1="679.36" x2="707.86" y2="681.06" stroke="#a3348f" stroke-width="2.4" /><line x1="701.64" y1="679.36" x2="699.94" y2="681.06" stroke="#a3348f" stroke-width="2.4" /><line x1="701.64" y1="674.84" x2="699.94" y2="673.14" stroke="#a3348f" stroke-width="2.4" /><line x1="706.16" y1="674.84" x2="707.86" y2="673.14" stroke="#a3348f" stroke-width="2.4" /><circle cx="703.9" cy="677.1" r="2.5" fill="#4a4a4d" stroke="#f1eff0" stroke-width="0.9" /><line x1="702.3" y1="677.1" x2="705.5" y2="677.1" stroke="#181416" stroke-width="0.4" /><line x1="703.9" y1="675.5" x2="703.9" y2="678.7" stroke="#181416" stroke-width="0.4" /><line x1="706.16" y1="718.06" x2="707.86" y2="719.76" stroke="#a3348f" stroke-width="2.4" /><line x1="701.64" y1="718.06" x2="699.94" y2="719.76" stroke="#a3348f" stroke-width="2.4" /><line x1="701.64" y1="713.54" x2="699.94" y2="711.84" stroke="#a3348f" stroke-width="2.4" /><line x1="706.16" y1="713.54" x2="707.86" y2="711.84" stroke="#a3348f" stroke-width="2.4" /><circle cx="703.9" cy="715.8" r="2.5" fill="#4a4a4d" stroke="#f1eff0" stroke-width="0.9" /><line x1="702.3" y1="715.8" x2="705.5" y2="715.8" stroke="#181416" stroke-width="0.4" /><line x1="703.9" y1="714.2" x2="703.9" y2="717.4" stroke="#181416" stroke-width="0.4" /><line x1="744.36" y1="679.36" x2="746.06" y2="681.06" stroke="#a3348f" stroke-width="2.4" /><line x1="739.84" y1="679.36" x2="738.14" y2="681.06" stroke="#a3348f" stroke-width="2.4" /><line x1="739.84" y1="674.84" x2="738.14" y2="673.14" stroke="#a3348f" stroke-width="2.4" /><line x1="744.36" y1="674.84" x2="746.06" y2="673.14" stroke="#a3348f" stroke-width="2.4" /><circle cx="742.1" cy="677.1" r="2.5" fill="#4a4a4d" stroke="#f1eff0" stroke-width="0.9" /><line x1="740.5" y1="677.1" x2="743.7" y2="677.1" stroke="#181416" stroke-width="0.4" /><line x1="742.1" y1="675.5" x2="742.1" y2="678.7" stroke="#181416" stroke-width="0.4" /><line x1="744.36" y1="718.06" x2="746.06" y2="719.76" stroke="#a3348f" stroke-width="2.4" /><line x1="739.84" y1="718.06" x2="738.14" y2="719.76" stroke="#a3348f" stroke-width="2.4" /><line x1="739.84" y1="713.54" x2="738.14" y2="711.84" stroke="#a3348f" stroke-width="2.4" /><line x1="744.36" y1="713.54" x2="746.06" y2="711.84" stroke="#a3348f" stroke-width="2.4" /><circle cx="742.1" cy="715.8" r="2.5" fill="#4a4a4d" stroke="#f1eff0" stroke-width="0.9" /><line x1="740.5" y1="715.8" x2="743.7" y2="715.8" stroke="#181416" stroke-width="0.4" /><line x1="742.1" y1="714.2" x2="742.1" y2="717.4" stroke="#181416" stroke-width="0.4" /><line x1="699" y1="688.8" x2="704.2" y2="688.8" stroke="#181416" stroke-width="1" /><line x1="701.6" y1="686.2" x2="701.6" y2="691.4" stroke="#181416" stroke-width="1" /><line x1="699" y1="704.5" x2="704.2" y2="704.5" stroke="#181416" stroke-width="1" /><line x1="701.6" y1="701.9" x2="701.6" y2="707.1" stroke="#181416" stroke-width="1" /><line x1="742.1" y1="688.8" x2="747.3" y2="688.8" stroke="#181416" stroke-width="1" /><line x1="744.7" y1="686.2" x2="744.7" y2="691.4" stroke="#181416" stroke-width="1" /><line x1="742.1" y1="704.5" x2="747.3" y2="704.5" stroke="#181416" stroke-width="1" /><line x1="744.7" y1="701.9" x2="744.7" y2="707.1" stroke="#181416" stroke-width="1" /><line x1="694" y1="696.4" x2="751.7" y2="696.4" stroke="#181416" stroke-width="0.9" /><line x1="723.1" y1="667.8" x2="723.1" y2="716.7" stroke="#181416" stroke-width="0.9" /><line x1="671.9" y1="670.2" x2="697.2" y2="670.2" stroke="#181416" stroke-width="1.0" /><line x1="671.9" y1="722.6" x2="697.2" y2="722.6" stroke="#181416" stroke-width="1.0" /><line x1="674" y1="670.2" x2="674" y2="722.6" stroke="#181416" stroke-width="1.0" /><polygon points="674,670.2 673,675.2 675,675.2" fill="#181416" /><polygon points="674,722.6 673,717.6 675,717.6" fill="#181416" /><text x="673" y="697" font-size="7.2" text-anchor="middle" fill="#181416" font-weight="bold" transform="rotate(-90 673 697)" >80</text><line x1="684.1" y1="677.1" x2="703" y2="677.1" stroke="#181416" stroke-width="1.0" /><line x1="684.1" y1="715.8" x2="703" y2="715.8" stroke="#181416" stroke-width="1.0" /><line x1="686.5" y1="675.4" x2="686.5" y2="716.4" stroke="#181416" stroke-width="1.0" /><polygon points="686.5,677.1 685.5,682.1 687.5,682.1" fill="#181416" /><polygon points="686.5,715.8 685.5,710.8 687.5,710.8" fill="#181416" /><text x="685.6" y="696.4" font-size="7" text-anchor="middle" fill="#181416" font-weight="bold" transform="rotate(-90 685.6 696.4)" >56.5</text><line x1="690.5" y1="715.8" x2="690.5" y2="706" stroke="#181416" stroke-width="1" /><polygon points="690.5,700.4 689.2,706.9 691.8,706.9" fill="#181416" /><line x1="690.3" y1="719" x2="691.5" y2="719" stroke="#181416" stroke-width="0.6" /><line x1="755.4" y1="695.8" x2="755.4" y2="688" stroke="#181416" stroke-width="1" /><polygon points="755.4,681.8 754.1,688.3 756.7,688.3" fill="#181416" /><line x1="755.2" y1="699.9" x2="756.4" y2="699.9" stroke="#181416" stroke-width="0.6" /><text x="722" y="723.8" font-size="7.4" text-anchor="middle" fill="#181416" font-weight="bold" >21.1</text><line x1="706.8" y1="725.6" x2="738.3" y2="725.6" stroke="#181416" stroke-width="1.0" /><polygon points="713.8,725.6 708.8,724.6 708.8,726.6" fill="#181416" /><polygon points="731,725.6 736,724.6 736,726.6" fill="#181416" /><line x1="713.8" y1="713.3" x2="713.8" y2="727.2" stroke="#181416" stroke-width="1.0" /><line x1="731" y1="713.3" x2="731" y2="727.2" stroke="#181416" stroke-width="1.0" /><line x1="714.4" y1="711.5" x2="701.6" y2="730.1" stroke="#181416" stroke-width="1.0" /><line x1="731.8" y1="711.5" x2="744.7" y2="730.1" stroke="#181416" stroke-width="1.0" /><path d="M701.6 728.6Q723.1 741 744.7 728.6" fill="none" stroke="#181416" stroke-width="0.9" /><polygon points="701.8,728.7 706.63,730.33 705.63,732.07" fill="#181416" /><polygon points="744.5,728.7 740.67,732.07 739.67,730.33" fill="#181416" /><rect x="717.5" y="729.5" width="12.5" height="6.2" fill="#fefefe" /><text x="723.6" y="734.3" font-size="7.6" text-anchor="middle" fill="#181416" font-weight="bold" >60°</text><line x1="703.9" y1="716" x2="703.9" y2="748.8" stroke="#181416" stroke-width="1.0" /><line x1="742.1" y1="716" x2="742.1" y2="748.8" stroke="#181416" stroke-width="1.0" /><line x1="701.6" y1="747.3" x2="744.1" y2="747.3" stroke="#181416" stroke-width="1.0" /><polygon points="703.9,747.3 708.9,746.3 708.9,748.3" fill="#181416" /><polygon points="742.1,747.3 737.1,746.3 737.1,748.3" fill="#181416" /><text x="722.9" y="745.4" font-size="7" text-anchor="middle" fill="#181416" font-weight="bold" >56.5</text><line x1="697.2" y1="722.6" x2="697.2" y2="759.8" stroke="#181416" stroke-width="1.0" /><line x1="749.4" y1="722.6" x2="749.4" y2="759.8" stroke="#181416" stroke-width="1.0" /><line x1="695.2" y1="758.1" x2="751.7" y2="758.1" stroke="#181416" stroke-width="1.0" /><polygon points="697.2,758.1 702.2,757.1 702.2,759.1" fill="#181416" /><polygon points="749.4,758.1 744.4,757.1 744.4,759.1" fill="#181416" /><text x="723.3" y="756.2" font-size="7.4" text-anchor="middle" fill="#181416" font-weight="bold" >80</text><path d="M774.7 693.5L818.6 718.4V733.6L774.7 708.7Z" fill="#565659" stroke="#101012" stroke-width="0.9" stroke-linejoin="round"/><path d="M818.6 718.4L863.3 693.5V705.7L818.6 733.6Z" fill="#626265" stroke="#101012" stroke-width="0.9" stroke-linejoin="round"/><path d="M774.7 693.5L819 668L863.3 693.5L818.6 718.4Z" fill="#737376" stroke="#101012" stroke-width="0.9" stroke-linejoin="round"/><path d="M798.6 707.3L810.4 714L822 706L809 699Z" fill="#fefefe"/><path d="M798.6 707.3L810.4 714V730.7L798.6 724.0Z" fill="#fefefe"/><path d="M798.6 707.3V722.5" fill="none" stroke="#101012" stroke-width="0.9" stroke-linejoin="round"/><path d="M810.4 714V729.2" fill="none" stroke="#101012" stroke-width="0.9" stroke-linejoin="round"/><path d="M798.6 707.3L788.6 696.5L798.6 690.5" fill="none" stroke="#101012" stroke-width="0.9" stroke-linejoin="round"/><path d="M810.4 714L816 704.7L824 708.5" fill="none" stroke="#101012" stroke-width="0.9" stroke-linejoin="round"/><path d="M831 712.5L853.5 699.5V704L831 717Z" fill="#85858a" stroke="#101012" stroke-width="0.9" stroke-linejoin="round"/><path d="M826 708.6L851 694.2L853.5 699.5L831 712.5Z" fill="#67676a" stroke="#101012" stroke-width="0.9" stroke-linejoin="round"/><ellipse cx="786.2" cy="692.6" rx="3.6" ry="2.2" fill="#3a3a3d" stroke="#101012" stroke-width="0.8" /><ellipse cx="786.6" cy="693.1" rx="2.2" ry="1.2" fill="#5a5a5d" /><ellipse cx="850.6" cy="692.6" rx="3.6" ry="2.2" fill="#3a3a3d" stroke="#101012" stroke-width="0.8" /><ellipse cx="851" cy="693.1" rx="2.2" ry="1.2" fill="#5a5a5d" /><ellipse cx="818.2" cy="711.2" rx="3.6" ry="2.2" fill="#3a3a3d" stroke="#101012" stroke-width="0.8" /><ellipse cx="818.6" cy="711.7" rx="2.2" ry="1.2" fill="#5a5a5d" /><ellipse cx="794" cy="685.6" rx="1.3" ry="0.9" fill="#151517" /><ellipse cx="843.5" cy="699.4" rx="1.3" ry="0.9" fill="#151517" /><ellipse cx="830" cy="706.7" rx="1.3" ry="0.9" fill="#151517" /><path d="M798.8 670.5V705A19.95 9.8 0 0 0 838.7 705V670.5Z" fill="url(#emd)" stroke="#101012" stroke-width="0.9" stroke-linejoin="round"/><path d="M798.8 684.8A19.95 9.8 0 0 0 838.7 684.8" fill="none" stroke="#101012" stroke-width="0.9" stroke-linejoin="round"/><path d="M798.8 688.3A19.95 9.8 0 0 0 838.7 688.3" fill="none" stroke="#101012" stroke-width="0.9" stroke-linejoin="round"/><ellipse cx="818.75" cy="670.5" rx="19.95" ry="9.9" fill="#77777a" stroke="#101012" stroke-width="0.9" stroke-linejoin="round"/><path d="M816 704.7L824 708.5L831 712.5L818.6 718.4L810.4 714Z" fill="#737376" stroke="#101012" stroke-width="0.9" stroke-linejoin="round"/><ellipse cx="818.2" cy="711.4" rx="3.4" ry="2.1" fill="#3a3a3d" stroke="#101012" stroke-width="0.8" /><path d="M807.3 655.5V669A11.5 5.6 0 0 0 830.3 669V655.5Z" fill="url(#emd)" stroke="#101012" stroke-width="0.9" stroke-linejoin="round"/><ellipse cx="818.8" cy="655.5" rx="11.5" ry="6.2" fill="#8a8a8d" stroke="#101012" stroke-width="0.9" stroke-linejoin="round"/><ellipse cx="818.6" cy="655.3" rx="8.6" ry="4.4" fill="#dcdcde" stroke="#f4f4f5" stroke-width="0.8" /><ellipse cx="818.8" cy="655.3" rx="1.9" ry="1.1" fill="#1b1b1d" /><ellipse cx="805.3" cy="704.6" rx="3.5" ry="4.2" fill="#3a3a3d" stroke="#101012" stroke-width="0.9" /><circle cx="805.5" cy="704.8" r="1.6" fill="#59595c" stroke="#1a1a1c" stroke-width="0.5" /></svg>
<svg width="1200" height="884" aria-label="NFS-750 drawing"><defs><linearGradient id="fdk" x1="0" y1="0" x2="1" y2="0"><stop offset="0" stop-color="#222224"/><stop offset="0.06" stop-color="#313134"/><stop offset="0.22" stop-color="#454548"/><stop offset="0.3" stop-color="#4f4f53"/><stop offset="0.42" stop-color="#404044"/><stop offset="0.6" stop-color="#353539"/><stop offset="0.85" stop-color="#2d2d30"/><stop offset="0.95" stop-color="#36363a"/><stop offset="1" stop-color="#1e1e20"/></linearGradient><linearGradient id="frd" x1="0" y1="0" x2="1" y2="0"><stop offset="0" stop-color="#6d6d70"/><stop offset="0.12" stop-color="#a4a4a7"/><stop offset="0.32" stop-color="#ececed"/><stop offset="0.45" stop-color="#fafafa"/><stop offset="0.65" stop-color="#cfcfd1"/><stop offset="0.85" stop-color="#9d9da0"/><stop offset="1" stop-color="#69696c"/></linearGradient><linearGradient id="fmd" x1="0" y1="0" x2="1" y2="0"><stop offset="0" stop-color="#2e2e31"/><stop offset="0.08" stop-color="#4a4a4e"/><stop offset="0.25" stop-color="#6c6c71"/><stop offset="0.32" stop-color="#7d7d82"/><stop offset="0.45" stop-color="#5e5e63"/><stop offset="0.65" stop-color="#4a4a4f"/><stop offset="0.9" stop-color="#3d3d41"/><stop offset="1" stop-color="#252528"/></linearGradient><pattern id="fhat" width="3.6" height="3.6" patternUnits="userSpaceOnUse" patternTransform="rotate(-45)"><rect width="3.6" height="3.6" fill="#fefefe"/><line x1="0" y1="0" x2="0" y2="3.6" stroke="#131313" stroke-width="1.9"/></pattern><pattern id="fhat2" width="1.5" height="1.5" patternUnits="userSpaceOnUse" patternTransform="rotate(45)"><rect width="1.5" height="1.5" fill="#77675f"/><line x1="0" y1="0" x2="0" y2="1.5" stroke="#241512" stroke-width="0.85"/></pattern><linearGradient id="fcy" x1="0" y1="0" x2="0" y2="1"><stop offset="0" stop-color="#1b1b1e"/><stop offset="0.15" stop-color="#3a3a3e"/><stop offset="0.3" stop-color="#55555a"/><stop offset="0.45" stop-color="#3e3e42"/><stop offset="0.75" stop-color="#252528"/><stop offset="1" stop-color="#141416"/></linearGradient><linearGradient id="frd" x1="0" y1="0" x2="0" y2="1"><stop offset="0" stop-color="#7d7d80"/><stop offset="0.12" stop-color="#b4b4b7"/><stop offset="0.32" stop-color="#f4f4f5"/><stop offset="0.5" stop-color="#ffffff"/><stop offset="0.7" stop-color="#d3d3d6"/><stop offset="0.88" stop-color="#a2a2a5"/><stop offset="1" stop-color="#707073"/></linearGradient></defs><rect x="947.1" y="634.3" width="20.8" height="16" fill="url(#frd)" rx="1.5"/><rect x="947.1" y="634.3" width="20.8" height="16" fill="none" rx="1.5" stroke="#8a8a8d" stroke-width="0.5"/><rect x="967.7" y="628.2" width="48.9" height="28.5" fill="url(#fcy)" /><rect x="1008.4" y="628.2" width="1.6" height="28.5" fill="#0b0b0d" /><rect x="1008.2" y="627.6" width="2.2" height="1.8" fill="#fefefe" /><rect x="1008.2" y="655.6" width="2.2" height="1.8" fill="#fefefe" /><rect x="973.3" y="608.5" width="17.3" height="73.3" fill="#3f3f43" /><rect x="973.3" y="628.2" width="17.3" height="28.5" fill="#2d2d31" opacity="0.55"/><circle cx="981.7" cy="614.6" r="1.4" fill="#b9b5b3" stroke="#151517" stroke-width="0.5" /><circle cx="982.1" cy="664.2" r="3.4" fill="#77777a" stroke="#141416" stroke-width="0.8" /><circle cx="982.1" cy="664.2" r="1.4" fill="#a5a5a8" /><rect x="980.4" y="675.5" width="3.4" height="3.4" fill="none" stroke="#d0ccca" stroke-width="0.6"/><line x1="973.3" y1="592.9" x2="973.3" y2="608.5" stroke="#181416" stroke-width="1.0" /><line x1="990.6" y1="592.9" x2="990.6" y2="608.5" stroke="#181416" stroke-width="1.0" /><line x1="961.8" y1="595.2" x2="1002.1" y2="595.2" stroke="#181416" stroke-width="1.0" /><polygon points="973.3,595.2 967.3,594.1 967.3,596.3" fill="#181416" /><polygon points="990.6,595.2 996.6,594.1 996.6,596.3" fill="#181416" /><text x="982.2" y="593" font-size="9.9" text-anchor="middle" fill="#181416" font-weight="bold" >30</text><text x="1013" y="593" font-size="9.8" text-anchor="start" fill="#181416" font-weight="bold" >2-</text><ellipse cx="1025.15" cy="589.47" rx="2.98" ry="3.23" fill="none" stroke="#181416" stroke-width="1.0" /><line x1="1022.88" y1="594.16" x2="1027.41" y2="584.78" stroke="#181416" stroke-width="1.0" /><text x="1030.08" y="593" font-size="9.8" text-anchor="start" fill="#181416" font-weight="bold" >9</text><line x1="1010.2" y1="595.2" x2="1040.6" y2="595.2" stroke="#181416" stroke-width="1.0" /><line x1="1010.2" y1="595.2" x2="981.9" y2="614.4" stroke="#181416" stroke-width="1.1" /><line x1="915.9" y1="608.5" x2="973.3" y2="608.5" stroke="#181416" stroke-width="1.0" /><line x1="915.9" y1="681.8" x2="1037.4" y2="681.8" stroke="#181416" stroke-width="1.0" /><line x1="918.6" y1="608.5" x2="918.6" y2="681.8" stroke="#181416" stroke-width="1.0" /><polygon points="918.6,608.5 917.5,614.5 919.7,614.5" fill="#181416" /><polygon points="918.6,681.8 917.5,675.8 919.7,675.8" fill="#181416" /><text x="915.8" y="643.8" font-size="9.9" text-anchor="middle" fill="#181416" font-weight="bold" transform="rotate(-90 915.8 643.8)" >130</text><line x1="941.9" y1="597" x2="941.9" y2="647.9" stroke="#181416" stroke-width="1.0" /><line x1="941.9" y1="660.1" x2="941.9" y2="693.4" stroke="#181416" stroke-width="1.0" /><polygon points="941.9,608.5 940.8,602.5 943,602.5" fill="#181416" /><polygon points="941.9,619.7 940.8,625.7 943,625.7" fill="#181416" /><polygon points="941.9,642.5 940.8,648.5 943,648.5" fill="#181416" /><polygon points="941.9,670.7 940.8,664.7 943,664.7" fill="#181416" /><polygon points="941.9,681.8 940.8,687.8 943,687.8" fill="#181416" /><line x1="940.3" y1="619.7" x2="973.3" y2="619.7" stroke="#181416" stroke-width="1.0" /><line x1="938.9" y1="642.5" x2="1016" y2="642.5" stroke="#181416" stroke-width="0.8" /><line x1="940.3" y1="670.7" x2="973.3" y2="670.7" stroke="#181416" stroke-width="1.0" /><text x="940.3" y="614" font-size="9.8" text-anchor="middle" fill="#181416" font-weight="bold" transform="rotate(-90 940.3 614)" >20</text><text x="940.3" y="629.2" font-size="9.8" text-anchor="middle" fill="#181416" font-weight="bold" transform="rotate(-90 940.3 629.2)" >40</text><text x="940.3" y="676.7" font-size="9.8" text-anchor="middle" fill="#181416" font-weight="bold" transform="rotate(-90 940.3 676.7)" >20</text><circle cx="1012.7" cy="642.7" r="2.4" fill="#c9c9cb" stroke="#101012" stroke-width="0.7" /><circle cx="1012.7" cy="642.7" r="0.9" fill="#555" /><line x1="990.6" y1="613.3" x2="1037.4" y2="613.3" stroke="#181416" stroke-width="1.0" /><line x1="982" y1="676.7" x2="1037.4" y2="676.7" stroke="#181416" stroke-width="1.0" /><line x1="1034.7" y1="613.3" x2="1034.7" y2="695.4" stroke="#181416" stroke-width="1.0" /><polygon points="1034.7,613.3 1033.6,619.3 1035.8,619.3" fill="#181416" /><polygon points="1034.7,676.7 1033.6,670.7 1035.8,670.7" fill="#181416" /><polygon points="1034.7,681.8 1033.6,687.8 1035.8,687.8" fill="#181416" /><text x="1032.4" y="641.8" font-size="9.9" text-anchor="middle" fill="#181416" font-weight="bold" transform="rotate(-90 1032.4 641.8)" >110</text><text x="1032.4" y="689.3" font-size="9.9" text-anchor="middle" fill="#181416" font-weight="bold" transform="rotate(-90 1032.4 689.3)" >10</text><path d="M933.6 746.6H1015.8V704H1028.1V758.3H933.6Z" fill="url(#fhat2)" stroke="#2a1b18" stroke-width="0.8" /><rect x="947.2" y="715.1" width="20.9" height="16.3" fill="url(#frd)" rx="1.5"/><rect x="947.2" y="715.1" width="20.9" height="16.3" fill="none" rx="1.5" stroke="#8a8a8d" stroke-width="0.5"/><rect x="968" y="709.8" width="47.3" height="28.6" fill="url(#fcy)" /><rect x="1007.6" y="709.8" width="1.5" height="28.6" fill="#0b0b0d" /><rect x="1007.4" y="709.2" width="2.1" height="1.8" fill="#fefefe" /><rect x="1007.4" y="737.2" width="2.1" height="1.8" fill="#fefefe" /><rect x="973.6" y="701.1" width="17.5" height="45.5" fill="#3f3f43" /><rect x="973.6" y="709.8" width="17.5" height="28.6" fill="#2d2d31" opacity="0.5"/><line x1="917.3" y1="701.1" x2="973.6" y2="701.1" stroke="#181416" stroke-width="1.0" /><line x1="917.3" y1="746.6" x2="933.6" y2="746.6" stroke="#181416" stroke-width="1.0" /><line x1="919.6" y1="701.1" x2="919.6" y2="746.6" stroke="#181416" stroke-width="1.0" /><polygon points="919.6,701.1 918.5,707.1 920.7,707.1" fill="#181416" /><polygon points="919.6,746.6 918.5,740.6 920.7,740.6" fill="#181416" /><text x="917.2" y="723.8" font-size="9.9" text-anchor="middle" fill="#181416" font-weight="bold" transform="rotate(-90 917.2 723.8)" >80</text><line x1="936.5" y1="723.8" x2="991.3" y2="723.8" stroke="#181416" stroke-width="0.8" /><line x1="942.1" y1="712.2" x2="942.1" y2="753.6" stroke="#181416" stroke-width="1.0" /><polygon points="942.1,723.8 941,717.8 943.2,717.8" fill="#181416" /><polygon points="942.1,753 941.1,748 943.1,748" fill="#181416" /><text x="939.7" y="736.7" font-size="9.8" text-anchor="middle" fill="#181416" font-weight="bold" transform="rotate(-90 939.7 736.7)" >40</text><line x1="955.2" y1="734.9" x2="968" y2="734.9" stroke="#181416" stroke-width="1.0" /><line x1="957.3" y1="725" x2="957.3" y2="753.6" stroke="#181416" stroke-width="1.0" /><polygon points="957.3,734.9 956.2,728.9 958.4,728.9" fill="#181416" /><polygon points="957.3,753 956.3,748 958.3,748" fill="#181416" /><text x="954.6" y="740.8" font-size="9.8" text-anchor="middle" fill="#181416" font-weight="bold" transform="rotate(-90 954.6 740.8)" >20</text><defs><linearGradient id="fcy3" x1="0.3" y1="0" x2="0.7" y2="1"><stop offset="0" stop-color="#151518"/><stop offset="0.25" stop-color="#3c3c40"/><stop offset="0.45" stop-color="#2f2f33"/><stop offset="1" stop-color="#141416"/></linearGradient><linearGradient id="frod3" x1="0.3" y1="0" x2="0.7" y2="1"><stop offset="0" stop-color="#c9c4c8"/><stop offset="0.3" stop-color="#fbf7fa"/><stop offset="0.6" stop-color="#efe6ec"/><stop offset="1" stop-color="#9f9a9e"/></linearGradient></defs><path d="M1099.3 666.3L1123.1 651.6L1136.3 674L1112.5 688.7Z" fill="url(#fcy3)"/><ellipse cx="1129.7" cy="662.8" rx="13" ry="6.6" fill="#36363a" stroke="#1c1c1e" stroke-width="0.7" transform="rotate(59.7 1129.7 662.8)"/><ellipse cx="1129.2" cy="663.1" rx="11" ry="5.2" fill="#424246" transform="rotate(59.7 1129.2 663.1)"/><path d="M1118.6 654.4A13 6.6 59.7 0 1 1131.8 676.8" fill="none" stroke="#19191b" stroke-width="0.9"/><circle cx="1122.6" cy="653.9" r="1.3" fill="#d9d5d3" stroke="#111" stroke-width="0.4" /><circle cx="1125.2" cy="652.9" r="0.8" fill="#b9b5b3" /><path d="M1069.1 678.6L1078.2 673.5V688L1069.1 690.5Z" fill="#3a3a3e" stroke="#4b4b4f" stroke-width="0.6" stroke-linejoin="round"/><path d="M1116.7 706L1127.4 700L1137.6 703.7L1125.1 710.9Z" fill="#48484c" stroke="#4b4b4f" stroke-width="0.6" stroke-linejoin="round"/><path d="M1125.1 710.9L1137.6 703.7V713.5L1125.1 720.6Z" fill="#2c2c2f" stroke="#4b4b4f" stroke-width="0.6" stroke-linejoin="round"/><ellipse cx="1126.9" cy="704.8" rx="2.3" ry="1.5" fill="#1c1c1e" stroke="#5a5a5f" stroke-width="0.4" /><path d="M1078.2 653.2L1116.7 674.7V706L1125.1 710.9V720.6L1069.1 690.5V678.6L1078.2 682Z" fill="#404044" stroke="#4b4b4f" stroke-width="0.6" stroke-linejoin="round"/><path d="M1078.2 653.2L1091.2 646.4L1128.5 667.9L1116.7 674.7Z" fill="#57575c" stroke="#4b4b4f" stroke-width="0.6" stroke-linejoin="round"/><path d="M1116.7 674.7L1128.5 667.9V693.3L1116.7 699.5Z" fill="#2d2d30" stroke="#4b4b4f" stroke-width="0.6" stroke-linejoin="round"/><path d="M1116.7 693.5L1128.5 687" fill="none" stroke="#4b4b4f" stroke-width="0.6" stroke-linejoin="round"/><path d="M1078.2 682L1116.7 703.5" fill="none" stroke="#29292c" stroke-width="0.6"/><ellipse cx="1117.2" cy="669" rx="3.1" ry="2" fill="#2a2a2c" stroke="#6a6a6f" stroke-width="0.6" /><ellipse cx="1117.2" cy="669" rx="1.4" ry="0.9" fill="#55555a" /><ellipse cx="1092.9" cy="684.3" rx="13" ry="14.7" fill="#2a2a2d" stroke="#4f4f54" stroke-width="0.7" transform="rotate(-8 1092.9 684.3)"/><ellipse cx="1091.5" cy="685.2" rx="9.8" ry="11.4" fill="#36363a" stroke="#1b1b1d" stroke-width="0.7" transform="rotate(-8 1091.5 685.2)"/><path d="M1072.8 688.2L1089.5 679.2A6 7.2 0 0 1 1094.8 691.6L1079 699.6Z" fill="url(#frod3)"/><ellipse cx="1075.9" cy="693.9" rx="5.5" ry="6.6" fill="#ecebed" stroke="#9a9a9d" stroke-width="0.6" transform="rotate(-8 1075.9 693.9)"/><ellipse cx="1075.7" cy="694" rx="3.6" ry="4.5" fill="#f9f9fa" stroke="#c9c9cc" stroke-width="0.4" transform="rotate(-8 1075.7 694)"/><circle cx="1075.6" cy="694.2" r="0.9" fill="#77777a" /></svg>
</body></html>
